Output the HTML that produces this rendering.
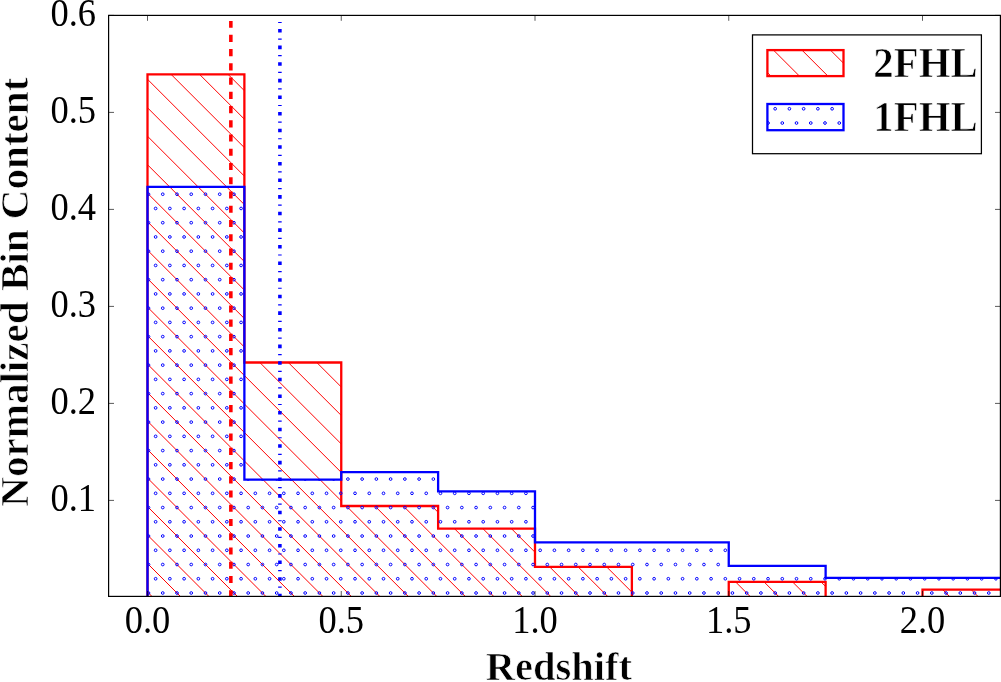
<!DOCTYPE html>
<html><head><meta charset="utf-8"><style>
html,body{margin:0;padding:0;background:#fff;}
body{width:1001px;height:682px;overflow:hidden;font-family:"Liberation Serif",serif;}
svg{display:block;will-change:transform;}
</style></head><body>
<svg width="1001" height="682" viewBox="0 0 1001 682">
<defs>
<clipPath id="ax"><rect x="108.60" y="15.40" width="891.80" height="581.60"/></clipPath>
<clipPath id="redc"><path d="M147.50,597.40 L147.50,74.40 L244.38,74.40 L244.38,362.50 L341.25,362.50 L341.25,506.00 L438.12,506.00 L438.12,528.70 L535.00,528.70 L535.00,566.80 L631.88,566.80 L631.88,597.40 L728.75,597.40 L728.75,581.90 L825.62,581.90 L825.62,597.40 L922.50,597.40 L922.50,589.70 L1019.38,589.70 L1019.38,597.40 Z"/></clipPath>
<clipPath id="bluec"><path d="M147.50,597.40 L147.50,186.90 L244.38,186.90 L244.38,479.60 L341.25,479.60 L341.25,472.10 L438.12,472.10 L438.12,491.30 L535.00,491.30 L535.00,542.40 L631.88,542.40 L631.88,542.40 L728.75,542.40 L728.75,565.80 L825.62,565.80 L825.62,577.90 L922.50,577.90 L922.50,577.90 L1019.38,577.90 L1019.38,597.40 Z"/></clipPath>
<clipPath id="lrc"><rect x="767.40" y="50.10" width="76.10" height="26.00"/></clipPath>
<clipPath id="lbc"><rect x="767.40" y="104.00" width="76.10" height="26.20"/></clipPath>
</defs>
<rect width="1001" height="682" fill="#fff"/>
<g clip-path="url(#ax)">
<g clip-path="url(#redc)" stroke="#ff0000" stroke-width="1.00" fill="none">
<line x1="-430.45" y1="71.00" x2="98.95" y2="600.40"/>
<line x1="-401.97" y1="71.00" x2="127.43" y2="600.40"/>
<line x1="-373.48" y1="71.00" x2="155.92" y2="600.40"/>
<line x1="-345.00" y1="71.00" x2="184.40" y2="600.40"/>
<line x1="-316.52" y1="71.00" x2="212.88" y2="600.40"/>
<line x1="-288.03" y1="71.00" x2="241.37" y2="600.40"/>
<line x1="-259.55" y1="71.00" x2="269.85" y2="600.40"/>
<line x1="-231.06" y1="71.00" x2="298.34" y2="600.40"/>
<line x1="-202.58" y1="71.00" x2="326.82" y2="600.40"/>
<line x1="-174.10" y1="71.00" x2="355.30" y2="600.40"/>
<line x1="-145.61" y1="71.00" x2="383.79" y2="600.40"/>
<line x1="-117.13" y1="71.00" x2="412.27" y2="600.40"/>
<line x1="-88.64" y1="71.00" x2="440.76" y2="600.40"/>
<line x1="-60.16" y1="71.00" x2="469.24" y2="600.40"/>
<line x1="-31.68" y1="71.00" x2="497.72" y2="600.40"/>
<line x1="-3.19" y1="71.00" x2="526.21" y2="600.40"/>
<line x1="25.29" y1="71.00" x2="554.69" y2="600.40"/>
<line x1="53.78" y1="71.00" x2="583.18" y2="600.40"/>
<line x1="82.26" y1="71.00" x2="611.66" y2="600.40"/>
<line x1="110.74" y1="71.00" x2="640.14" y2="600.40"/>
<line x1="139.23" y1="71.00" x2="668.63" y2="600.40"/>
<line x1="167.71" y1="71.00" x2="697.11" y2="600.40"/>
<line x1="196.20" y1="71.00" x2="725.60" y2="600.40"/>
<line x1="224.68" y1="71.00" x2="754.08" y2="600.40"/>
<line x1="253.16" y1="71.00" x2="782.56" y2="600.40"/>
<line x1="281.65" y1="71.00" x2="811.05" y2="600.40"/>
<line x1="310.13" y1="71.00" x2="839.53" y2="600.40"/>
<line x1="338.62" y1="71.00" x2="868.02" y2="600.40"/>
<line x1="367.10" y1="71.00" x2="896.50" y2="600.40"/>
<line x1="395.58" y1="71.00" x2="924.98" y2="600.40"/>
<line x1="424.07" y1="71.00" x2="953.47" y2="600.40"/>
<line x1="452.55" y1="71.00" x2="981.95" y2="600.40"/>
<line x1="481.04" y1="71.00" x2="1010.44" y2="600.40"/>
<line x1="509.52" y1="71.00" x2="1038.92" y2="600.40"/>
<line x1="538.00" y1="71.00" x2="1067.40" y2="600.40"/>
<line x1="566.49" y1="71.00" x2="1095.89" y2="600.40"/>
<line x1="594.97" y1="71.00" x2="1124.37" y2="600.40"/>
<line x1="623.46" y1="71.00" x2="1152.86" y2="600.40"/>
<line x1="651.94" y1="71.00" x2="1181.34" y2="600.40"/>
<line x1="680.42" y1="71.00" x2="1209.82" y2="600.40"/>
<line x1="708.91" y1="71.00" x2="1238.31" y2="600.40"/>
<line x1="737.39" y1="71.00" x2="1266.79" y2="600.40"/>
<line x1="765.88" y1="71.00" x2="1295.28" y2="600.40"/>
<line x1="794.36" y1="71.00" x2="1323.76" y2="600.40"/>
<line x1="822.84" y1="71.00" x2="1352.24" y2="600.40"/>
<line x1="851.33" y1="71.00" x2="1380.73" y2="600.40"/>
<line x1="879.81" y1="71.00" x2="1409.21" y2="600.40"/>
<line x1="908.30" y1="71.00" x2="1437.70" y2="600.40"/>
<line x1="936.78" y1="71.00" x2="1466.18" y2="600.40"/>
<line x1="965.26" y1="71.00" x2="1494.66" y2="600.40"/>
<line x1="993.75" y1="71.00" x2="1523.15" y2="600.40"/>
<line x1="1022.23" y1="71.00" x2="1551.63" y2="600.40"/>
<line x1="1050.72" y1="71.00" x2="1580.12" y2="600.40"/>
</g>
<path d="M147.50,597.40 L147.50,74.40 L244.38,74.40 L244.38,362.50 L341.25,362.50 L341.25,506.00 L438.12,506.00 L438.12,528.70 L535.00,528.70 L535.00,566.80 L631.88,566.80 L631.88,597.40 L728.75,597.40 L728.75,581.90 L825.62,581.90 L825.62,597.40 L922.50,597.40 L922.50,589.70 L1019.38,589.70 L1019.38,597.40" fill="none" stroke="#ff0000" stroke-width="2.30" stroke-linejoin="miter"/>
<g clip-path="url(#bluec)" stroke="#0000ff" stroke-width="1.00" fill="none">
<circle cx="148.51" cy="593.00" r="1.35"/>
<circle cx="162.75" cy="593.00" r="1.35"/>
<circle cx="176.99" cy="593.00" r="1.35"/>
<circle cx="191.23" cy="593.00" r="1.35"/>
<circle cx="205.48" cy="593.00" r="1.35"/>
<circle cx="219.72" cy="593.00" r="1.35"/>
<circle cx="233.96" cy="593.00" r="1.35"/>
<circle cx="248.20" cy="593.00" r="1.35"/>
<circle cx="262.44" cy="593.00" r="1.35"/>
<circle cx="276.69" cy="593.00" r="1.35"/>
<circle cx="290.93" cy="593.00" r="1.35"/>
<circle cx="305.17" cy="593.00" r="1.35"/>
<circle cx="319.41" cy="593.00" r="1.35"/>
<circle cx="333.65" cy="593.00" r="1.35"/>
<circle cx="347.90" cy="593.00" r="1.35"/>
<circle cx="362.14" cy="593.00" r="1.35"/>
<circle cx="376.38" cy="593.00" r="1.35"/>
<circle cx="390.62" cy="593.00" r="1.35"/>
<circle cx="404.86" cy="593.00" r="1.35"/>
<circle cx="419.11" cy="593.00" r="1.35"/>
<circle cx="433.35" cy="593.00" r="1.35"/>
<circle cx="447.59" cy="593.00" r="1.35"/>
<circle cx="461.83" cy="593.00" r="1.35"/>
<circle cx="476.07" cy="593.00" r="1.35"/>
<circle cx="490.32" cy="593.00" r="1.35"/>
<circle cx="504.56" cy="593.00" r="1.35"/>
<circle cx="518.80" cy="593.00" r="1.35"/>
<circle cx="533.04" cy="593.00" r="1.35"/>
<circle cx="547.28" cy="593.00" r="1.35"/>
<circle cx="561.53" cy="593.00" r="1.35"/>
<circle cx="575.77" cy="593.00" r="1.35"/>
<circle cx="590.01" cy="593.00" r="1.35"/>
<circle cx="604.25" cy="593.00" r="1.35"/>
<circle cx="618.49" cy="593.00" r="1.35"/>
<circle cx="632.74" cy="593.00" r="1.35"/>
<circle cx="646.98" cy="593.00" r="1.35"/>
<circle cx="661.22" cy="593.00" r="1.35"/>
<circle cx="675.46" cy="593.00" r="1.35"/>
<circle cx="689.70" cy="593.00" r="1.35"/>
<circle cx="703.95" cy="593.00" r="1.35"/>
<circle cx="718.19" cy="593.00" r="1.35"/>
<circle cx="732.43" cy="593.00" r="1.35"/>
<circle cx="746.67" cy="593.00" r="1.35"/>
<circle cx="760.91" cy="593.00" r="1.35"/>
<circle cx="775.16" cy="593.00" r="1.35"/>
<circle cx="789.40" cy="593.00" r="1.35"/>
<circle cx="803.64" cy="593.00" r="1.35"/>
<circle cx="817.88" cy="593.00" r="1.35"/>
<circle cx="832.12" cy="593.00" r="1.35"/>
<circle cx="846.37" cy="593.00" r="1.35"/>
<circle cx="860.61" cy="593.00" r="1.35"/>
<circle cx="874.85" cy="593.00" r="1.35"/>
<circle cx="889.09" cy="593.00" r="1.35"/>
<circle cx="903.33" cy="593.00" r="1.35"/>
<circle cx="917.58" cy="593.00" r="1.35"/>
<circle cx="931.82" cy="593.00" r="1.35"/>
<circle cx="946.06" cy="593.00" r="1.35"/>
<circle cx="960.30" cy="593.00" r="1.35"/>
<circle cx="974.54" cy="593.00" r="1.35"/>
<circle cx="988.79" cy="593.00" r="1.35"/>
<circle cx="1003.03" cy="593.00" r="1.35"/>
<circle cx="155.63" cy="578.76" r="1.35"/>
<circle cx="169.87" cy="578.76" r="1.35"/>
<circle cx="184.11" cy="578.76" r="1.35"/>
<circle cx="198.35" cy="578.76" r="1.35"/>
<circle cx="212.60" cy="578.76" r="1.35"/>
<circle cx="226.84" cy="578.76" r="1.35"/>
<circle cx="241.08" cy="578.76" r="1.35"/>
<circle cx="255.32" cy="578.76" r="1.35"/>
<circle cx="269.56" cy="578.76" r="1.35"/>
<circle cx="283.81" cy="578.76" r="1.35"/>
<circle cx="298.05" cy="578.76" r="1.35"/>
<circle cx="312.29" cy="578.76" r="1.35"/>
<circle cx="326.53" cy="578.76" r="1.35"/>
<circle cx="340.77" cy="578.76" r="1.35"/>
<circle cx="355.02" cy="578.76" r="1.35"/>
<circle cx="369.26" cy="578.76" r="1.35"/>
<circle cx="383.50" cy="578.76" r="1.35"/>
<circle cx="397.74" cy="578.76" r="1.35"/>
<circle cx="411.99" cy="578.76" r="1.35"/>
<circle cx="426.23" cy="578.76" r="1.35"/>
<circle cx="440.47" cy="578.76" r="1.35"/>
<circle cx="454.71" cy="578.76" r="1.35"/>
<circle cx="468.95" cy="578.76" r="1.35"/>
<circle cx="483.20" cy="578.76" r="1.35"/>
<circle cx="497.44" cy="578.76" r="1.35"/>
<circle cx="511.68" cy="578.76" r="1.35"/>
<circle cx="525.92" cy="578.76" r="1.35"/>
<circle cx="540.16" cy="578.76" r="1.35"/>
<circle cx="554.40" cy="578.76" r="1.35"/>
<circle cx="568.65" cy="578.76" r="1.35"/>
<circle cx="582.89" cy="578.76" r="1.35"/>
<circle cx="597.13" cy="578.76" r="1.35"/>
<circle cx="611.37" cy="578.76" r="1.35"/>
<circle cx="625.62" cy="578.76" r="1.35"/>
<circle cx="639.86" cy="578.76" r="1.35"/>
<circle cx="654.10" cy="578.76" r="1.35"/>
<circle cx="668.34" cy="578.76" r="1.35"/>
<circle cx="682.58" cy="578.76" r="1.35"/>
<circle cx="696.83" cy="578.76" r="1.35"/>
<circle cx="711.07" cy="578.76" r="1.35"/>
<circle cx="725.31" cy="578.76" r="1.35"/>
<circle cx="739.55" cy="578.76" r="1.35"/>
<circle cx="753.79" cy="578.76" r="1.35"/>
<circle cx="768.04" cy="578.76" r="1.35"/>
<circle cx="782.28" cy="578.76" r="1.35"/>
<circle cx="796.52" cy="578.76" r="1.35"/>
<circle cx="810.76" cy="578.76" r="1.35"/>
<circle cx="825.00" cy="578.76" r="1.35"/>
<circle cx="839.25" cy="578.76" r="1.35"/>
<circle cx="853.49" cy="578.76" r="1.35"/>
<circle cx="867.73" cy="578.76" r="1.35"/>
<circle cx="881.97" cy="578.76" r="1.35"/>
<circle cx="896.21" cy="578.76" r="1.35"/>
<circle cx="910.46" cy="578.76" r="1.35"/>
<circle cx="924.70" cy="578.76" r="1.35"/>
<circle cx="938.94" cy="578.76" r="1.35"/>
<circle cx="953.18" cy="578.76" r="1.35"/>
<circle cx="967.42" cy="578.76" r="1.35"/>
<circle cx="981.67" cy="578.76" r="1.35"/>
<circle cx="995.91" cy="578.76" r="1.35"/>
<circle cx="148.51" cy="564.52" r="1.35"/>
<circle cx="162.75" cy="564.52" r="1.35"/>
<circle cx="176.99" cy="564.52" r="1.35"/>
<circle cx="191.23" cy="564.52" r="1.35"/>
<circle cx="205.48" cy="564.52" r="1.35"/>
<circle cx="219.72" cy="564.52" r="1.35"/>
<circle cx="233.96" cy="564.52" r="1.35"/>
<circle cx="248.20" cy="564.52" r="1.35"/>
<circle cx="262.44" cy="564.52" r="1.35"/>
<circle cx="276.69" cy="564.52" r="1.35"/>
<circle cx="290.93" cy="564.52" r="1.35"/>
<circle cx="305.17" cy="564.52" r="1.35"/>
<circle cx="319.41" cy="564.52" r="1.35"/>
<circle cx="333.65" cy="564.52" r="1.35"/>
<circle cx="347.90" cy="564.52" r="1.35"/>
<circle cx="362.14" cy="564.52" r="1.35"/>
<circle cx="376.38" cy="564.52" r="1.35"/>
<circle cx="390.62" cy="564.52" r="1.35"/>
<circle cx="404.86" cy="564.52" r="1.35"/>
<circle cx="419.11" cy="564.52" r="1.35"/>
<circle cx="433.35" cy="564.52" r="1.35"/>
<circle cx="447.59" cy="564.52" r="1.35"/>
<circle cx="461.83" cy="564.52" r="1.35"/>
<circle cx="476.07" cy="564.52" r="1.35"/>
<circle cx="490.32" cy="564.52" r="1.35"/>
<circle cx="504.56" cy="564.52" r="1.35"/>
<circle cx="518.80" cy="564.52" r="1.35"/>
<circle cx="533.04" cy="564.52" r="1.35"/>
<circle cx="547.28" cy="564.52" r="1.35"/>
<circle cx="561.53" cy="564.52" r="1.35"/>
<circle cx="575.77" cy="564.52" r="1.35"/>
<circle cx="590.01" cy="564.52" r="1.35"/>
<circle cx="604.25" cy="564.52" r="1.35"/>
<circle cx="618.49" cy="564.52" r="1.35"/>
<circle cx="632.74" cy="564.52" r="1.35"/>
<circle cx="646.98" cy="564.52" r="1.35"/>
<circle cx="661.22" cy="564.52" r="1.35"/>
<circle cx="675.46" cy="564.52" r="1.35"/>
<circle cx="689.70" cy="564.52" r="1.35"/>
<circle cx="703.95" cy="564.52" r="1.35"/>
<circle cx="718.19" cy="564.52" r="1.35"/>
<circle cx="732.43" cy="564.52" r="1.35"/>
<circle cx="746.67" cy="564.52" r="1.35"/>
<circle cx="760.91" cy="564.52" r="1.35"/>
<circle cx="775.16" cy="564.52" r="1.35"/>
<circle cx="789.40" cy="564.52" r="1.35"/>
<circle cx="803.64" cy="564.52" r="1.35"/>
<circle cx="817.88" cy="564.52" r="1.35"/>
<circle cx="832.12" cy="564.52" r="1.35"/>
<circle cx="846.37" cy="564.52" r="1.35"/>
<circle cx="860.61" cy="564.52" r="1.35"/>
<circle cx="874.85" cy="564.52" r="1.35"/>
<circle cx="889.09" cy="564.52" r="1.35"/>
<circle cx="903.33" cy="564.52" r="1.35"/>
<circle cx="917.58" cy="564.52" r="1.35"/>
<circle cx="931.82" cy="564.52" r="1.35"/>
<circle cx="946.06" cy="564.52" r="1.35"/>
<circle cx="960.30" cy="564.52" r="1.35"/>
<circle cx="974.54" cy="564.52" r="1.35"/>
<circle cx="988.79" cy="564.52" r="1.35"/>
<circle cx="1003.03" cy="564.52" r="1.35"/>
<circle cx="155.63" cy="550.27" r="1.35"/>
<circle cx="169.87" cy="550.27" r="1.35"/>
<circle cx="184.11" cy="550.27" r="1.35"/>
<circle cx="198.35" cy="550.27" r="1.35"/>
<circle cx="212.60" cy="550.27" r="1.35"/>
<circle cx="226.84" cy="550.27" r="1.35"/>
<circle cx="241.08" cy="550.27" r="1.35"/>
<circle cx="255.32" cy="550.27" r="1.35"/>
<circle cx="269.56" cy="550.27" r="1.35"/>
<circle cx="283.81" cy="550.27" r="1.35"/>
<circle cx="298.05" cy="550.27" r="1.35"/>
<circle cx="312.29" cy="550.27" r="1.35"/>
<circle cx="326.53" cy="550.27" r="1.35"/>
<circle cx="340.77" cy="550.27" r="1.35"/>
<circle cx="355.02" cy="550.27" r="1.35"/>
<circle cx="369.26" cy="550.27" r="1.35"/>
<circle cx="383.50" cy="550.27" r="1.35"/>
<circle cx="397.74" cy="550.27" r="1.35"/>
<circle cx="411.99" cy="550.27" r="1.35"/>
<circle cx="426.23" cy="550.27" r="1.35"/>
<circle cx="440.47" cy="550.27" r="1.35"/>
<circle cx="454.71" cy="550.27" r="1.35"/>
<circle cx="468.95" cy="550.27" r="1.35"/>
<circle cx="483.20" cy="550.27" r="1.35"/>
<circle cx="497.44" cy="550.27" r="1.35"/>
<circle cx="511.68" cy="550.27" r="1.35"/>
<circle cx="525.92" cy="550.27" r="1.35"/>
<circle cx="540.16" cy="550.27" r="1.35"/>
<circle cx="554.40" cy="550.27" r="1.35"/>
<circle cx="568.65" cy="550.27" r="1.35"/>
<circle cx="582.89" cy="550.27" r="1.35"/>
<circle cx="597.13" cy="550.27" r="1.35"/>
<circle cx="611.37" cy="550.27" r="1.35"/>
<circle cx="625.62" cy="550.27" r="1.35"/>
<circle cx="639.86" cy="550.27" r="1.35"/>
<circle cx="654.10" cy="550.27" r="1.35"/>
<circle cx="668.34" cy="550.27" r="1.35"/>
<circle cx="682.58" cy="550.27" r="1.35"/>
<circle cx="696.83" cy="550.27" r="1.35"/>
<circle cx="711.07" cy="550.27" r="1.35"/>
<circle cx="725.31" cy="550.27" r="1.35"/>
<circle cx="739.55" cy="550.27" r="1.35"/>
<circle cx="753.79" cy="550.27" r="1.35"/>
<circle cx="768.04" cy="550.27" r="1.35"/>
<circle cx="782.28" cy="550.27" r="1.35"/>
<circle cx="796.52" cy="550.27" r="1.35"/>
<circle cx="810.76" cy="550.27" r="1.35"/>
<circle cx="825.00" cy="550.27" r="1.35"/>
<circle cx="839.25" cy="550.27" r="1.35"/>
<circle cx="853.49" cy="550.27" r="1.35"/>
<circle cx="867.73" cy="550.27" r="1.35"/>
<circle cx="881.97" cy="550.27" r="1.35"/>
<circle cx="896.21" cy="550.27" r="1.35"/>
<circle cx="910.46" cy="550.27" r="1.35"/>
<circle cx="924.70" cy="550.27" r="1.35"/>
<circle cx="938.94" cy="550.27" r="1.35"/>
<circle cx="953.18" cy="550.27" r="1.35"/>
<circle cx="967.42" cy="550.27" r="1.35"/>
<circle cx="981.67" cy="550.27" r="1.35"/>
<circle cx="995.91" cy="550.27" r="1.35"/>
<circle cx="148.51" cy="536.03" r="1.35"/>
<circle cx="162.75" cy="536.03" r="1.35"/>
<circle cx="176.99" cy="536.03" r="1.35"/>
<circle cx="191.23" cy="536.03" r="1.35"/>
<circle cx="205.48" cy="536.03" r="1.35"/>
<circle cx="219.72" cy="536.03" r="1.35"/>
<circle cx="233.96" cy="536.03" r="1.35"/>
<circle cx="248.20" cy="536.03" r="1.35"/>
<circle cx="262.44" cy="536.03" r="1.35"/>
<circle cx="276.69" cy="536.03" r="1.35"/>
<circle cx="290.93" cy="536.03" r="1.35"/>
<circle cx="305.17" cy="536.03" r="1.35"/>
<circle cx="319.41" cy="536.03" r="1.35"/>
<circle cx="333.65" cy="536.03" r="1.35"/>
<circle cx="347.90" cy="536.03" r="1.35"/>
<circle cx="362.14" cy="536.03" r="1.35"/>
<circle cx="376.38" cy="536.03" r="1.35"/>
<circle cx="390.62" cy="536.03" r="1.35"/>
<circle cx="404.86" cy="536.03" r="1.35"/>
<circle cx="419.11" cy="536.03" r="1.35"/>
<circle cx="433.35" cy="536.03" r="1.35"/>
<circle cx="447.59" cy="536.03" r="1.35"/>
<circle cx="461.83" cy="536.03" r="1.35"/>
<circle cx="476.07" cy="536.03" r="1.35"/>
<circle cx="490.32" cy="536.03" r="1.35"/>
<circle cx="504.56" cy="536.03" r="1.35"/>
<circle cx="518.80" cy="536.03" r="1.35"/>
<circle cx="533.04" cy="536.03" r="1.35"/>
<circle cx="547.28" cy="536.03" r="1.35"/>
<circle cx="561.53" cy="536.03" r="1.35"/>
<circle cx="575.77" cy="536.03" r="1.35"/>
<circle cx="590.01" cy="536.03" r="1.35"/>
<circle cx="604.25" cy="536.03" r="1.35"/>
<circle cx="618.49" cy="536.03" r="1.35"/>
<circle cx="632.74" cy="536.03" r="1.35"/>
<circle cx="646.98" cy="536.03" r="1.35"/>
<circle cx="661.22" cy="536.03" r="1.35"/>
<circle cx="675.46" cy="536.03" r="1.35"/>
<circle cx="689.70" cy="536.03" r="1.35"/>
<circle cx="703.95" cy="536.03" r="1.35"/>
<circle cx="718.19" cy="536.03" r="1.35"/>
<circle cx="732.43" cy="536.03" r="1.35"/>
<circle cx="746.67" cy="536.03" r="1.35"/>
<circle cx="760.91" cy="536.03" r="1.35"/>
<circle cx="775.16" cy="536.03" r="1.35"/>
<circle cx="789.40" cy="536.03" r="1.35"/>
<circle cx="803.64" cy="536.03" r="1.35"/>
<circle cx="817.88" cy="536.03" r="1.35"/>
<circle cx="832.12" cy="536.03" r="1.35"/>
<circle cx="846.37" cy="536.03" r="1.35"/>
<circle cx="860.61" cy="536.03" r="1.35"/>
<circle cx="874.85" cy="536.03" r="1.35"/>
<circle cx="889.09" cy="536.03" r="1.35"/>
<circle cx="903.33" cy="536.03" r="1.35"/>
<circle cx="917.58" cy="536.03" r="1.35"/>
<circle cx="931.82" cy="536.03" r="1.35"/>
<circle cx="946.06" cy="536.03" r="1.35"/>
<circle cx="960.30" cy="536.03" r="1.35"/>
<circle cx="974.54" cy="536.03" r="1.35"/>
<circle cx="988.79" cy="536.03" r="1.35"/>
<circle cx="1003.03" cy="536.03" r="1.35"/>
<circle cx="155.63" cy="521.79" r="1.35"/>
<circle cx="169.87" cy="521.79" r="1.35"/>
<circle cx="184.11" cy="521.79" r="1.35"/>
<circle cx="198.35" cy="521.79" r="1.35"/>
<circle cx="212.60" cy="521.79" r="1.35"/>
<circle cx="226.84" cy="521.79" r="1.35"/>
<circle cx="241.08" cy="521.79" r="1.35"/>
<circle cx="255.32" cy="521.79" r="1.35"/>
<circle cx="269.56" cy="521.79" r="1.35"/>
<circle cx="283.81" cy="521.79" r="1.35"/>
<circle cx="298.05" cy="521.79" r="1.35"/>
<circle cx="312.29" cy="521.79" r="1.35"/>
<circle cx="326.53" cy="521.79" r="1.35"/>
<circle cx="340.77" cy="521.79" r="1.35"/>
<circle cx="355.02" cy="521.79" r="1.35"/>
<circle cx="369.26" cy="521.79" r="1.35"/>
<circle cx="383.50" cy="521.79" r="1.35"/>
<circle cx="397.74" cy="521.79" r="1.35"/>
<circle cx="411.99" cy="521.79" r="1.35"/>
<circle cx="426.23" cy="521.79" r="1.35"/>
<circle cx="440.47" cy="521.79" r="1.35"/>
<circle cx="454.71" cy="521.79" r="1.35"/>
<circle cx="468.95" cy="521.79" r="1.35"/>
<circle cx="483.20" cy="521.79" r="1.35"/>
<circle cx="497.44" cy="521.79" r="1.35"/>
<circle cx="511.68" cy="521.79" r="1.35"/>
<circle cx="525.92" cy="521.79" r="1.35"/>
<circle cx="540.16" cy="521.79" r="1.35"/>
<circle cx="554.40" cy="521.79" r="1.35"/>
<circle cx="568.65" cy="521.79" r="1.35"/>
<circle cx="582.89" cy="521.79" r="1.35"/>
<circle cx="597.13" cy="521.79" r="1.35"/>
<circle cx="611.37" cy="521.79" r="1.35"/>
<circle cx="625.62" cy="521.79" r="1.35"/>
<circle cx="639.86" cy="521.79" r="1.35"/>
<circle cx="654.10" cy="521.79" r="1.35"/>
<circle cx="668.34" cy="521.79" r="1.35"/>
<circle cx="682.58" cy="521.79" r="1.35"/>
<circle cx="696.83" cy="521.79" r="1.35"/>
<circle cx="711.07" cy="521.79" r="1.35"/>
<circle cx="725.31" cy="521.79" r="1.35"/>
<circle cx="739.55" cy="521.79" r="1.35"/>
<circle cx="753.79" cy="521.79" r="1.35"/>
<circle cx="768.04" cy="521.79" r="1.35"/>
<circle cx="782.28" cy="521.79" r="1.35"/>
<circle cx="796.52" cy="521.79" r="1.35"/>
<circle cx="810.76" cy="521.79" r="1.35"/>
<circle cx="825.00" cy="521.79" r="1.35"/>
<circle cx="839.25" cy="521.79" r="1.35"/>
<circle cx="853.49" cy="521.79" r="1.35"/>
<circle cx="867.73" cy="521.79" r="1.35"/>
<circle cx="881.97" cy="521.79" r="1.35"/>
<circle cx="896.21" cy="521.79" r="1.35"/>
<circle cx="910.46" cy="521.79" r="1.35"/>
<circle cx="924.70" cy="521.79" r="1.35"/>
<circle cx="938.94" cy="521.79" r="1.35"/>
<circle cx="953.18" cy="521.79" r="1.35"/>
<circle cx="967.42" cy="521.79" r="1.35"/>
<circle cx="981.67" cy="521.79" r="1.35"/>
<circle cx="995.91" cy="521.79" r="1.35"/>
<circle cx="148.51" cy="507.55" r="1.35"/>
<circle cx="162.75" cy="507.55" r="1.35"/>
<circle cx="176.99" cy="507.55" r="1.35"/>
<circle cx="191.23" cy="507.55" r="1.35"/>
<circle cx="205.48" cy="507.55" r="1.35"/>
<circle cx="219.72" cy="507.55" r="1.35"/>
<circle cx="233.96" cy="507.55" r="1.35"/>
<circle cx="248.20" cy="507.55" r="1.35"/>
<circle cx="262.44" cy="507.55" r="1.35"/>
<circle cx="276.69" cy="507.55" r="1.35"/>
<circle cx="290.93" cy="507.55" r="1.35"/>
<circle cx="305.17" cy="507.55" r="1.35"/>
<circle cx="319.41" cy="507.55" r="1.35"/>
<circle cx="333.65" cy="507.55" r="1.35"/>
<circle cx="347.90" cy="507.55" r="1.35"/>
<circle cx="362.14" cy="507.55" r="1.35"/>
<circle cx="376.38" cy="507.55" r="1.35"/>
<circle cx="390.62" cy="507.55" r="1.35"/>
<circle cx="404.86" cy="507.55" r="1.35"/>
<circle cx="419.11" cy="507.55" r="1.35"/>
<circle cx="433.35" cy="507.55" r="1.35"/>
<circle cx="447.59" cy="507.55" r="1.35"/>
<circle cx="461.83" cy="507.55" r="1.35"/>
<circle cx="476.07" cy="507.55" r="1.35"/>
<circle cx="490.32" cy="507.55" r="1.35"/>
<circle cx="504.56" cy="507.55" r="1.35"/>
<circle cx="518.80" cy="507.55" r="1.35"/>
<circle cx="533.04" cy="507.55" r="1.35"/>
<circle cx="547.28" cy="507.55" r="1.35"/>
<circle cx="561.53" cy="507.55" r="1.35"/>
<circle cx="575.77" cy="507.55" r="1.35"/>
<circle cx="590.01" cy="507.55" r="1.35"/>
<circle cx="604.25" cy="507.55" r="1.35"/>
<circle cx="618.49" cy="507.55" r="1.35"/>
<circle cx="632.74" cy="507.55" r="1.35"/>
<circle cx="646.98" cy="507.55" r="1.35"/>
<circle cx="661.22" cy="507.55" r="1.35"/>
<circle cx="675.46" cy="507.55" r="1.35"/>
<circle cx="689.70" cy="507.55" r="1.35"/>
<circle cx="703.95" cy="507.55" r="1.35"/>
<circle cx="718.19" cy="507.55" r="1.35"/>
<circle cx="732.43" cy="507.55" r="1.35"/>
<circle cx="746.67" cy="507.55" r="1.35"/>
<circle cx="760.91" cy="507.55" r="1.35"/>
<circle cx="775.16" cy="507.55" r="1.35"/>
<circle cx="789.40" cy="507.55" r="1.35"/>
<circle cx="803.64" cy="507.55" r="1.35"/>
<circle cx="817.88" cy="507.55" r="1.35"/>
<circle cx="832.12" cy="507.55" r="1.35"/>
<circle cx="846.37" cy="507.55" r="1.35"/>
<circle cx="860.61" cy="507.55" r="1.35"/>
<circle cx="874.85" cy="507.55" r="1.35"/>
<circle cx="889.09" cy="507.55" r="1.35"/>
<circle cx="903.33" cy="507.55" r="1.35"/>
<circle cx="917.58" cy="507.55" r="1.35"/>
<circle cx="931.82" cy="507.55" r="1.35"/>
<circle cx="946.06" cy="507.55" r="1.35"/>
<circle cx="960.30" cy="507.55" r="1.35"/>
<circle cx="974.54" cy="507.55" r="1.35"/>
<circle cx="988.79" cy="507.55" r="1.35"/>
<circle cx="1003.03" cy="507.55" r="1.35"/>
<circle cx="155.63" cy="493.31" r="1.35"/>
<circle cx="169.87" cy="493.31" r="1.35"/>
<circle cx="184.11" cy="493.31" r="1.35"/>
<circle cx="198.35" cy="493.31" r="1.35"/>
<circle cx="212.60" cy="493.31" r="1.35"/>
<circle cx="226.84" cy="493.31" r="1.35"/>
<circle cx="241.08" cy="493.31" r="1.35"/>
<circle cx="255.32" cy="493.31" r="1.35"/>
<circle cx="269.56" cy="493.31" r="1.35"/>
<circle cx="283.81" cy="493.31" r="1.35"/>
<circle cx="298.05" cy="493.31" r="1.35"/>
<circle cx="312.29" cy="493.31" r="1.35"/>
<circle cx="326.53" cy="493.31" r="1.35"/>
<circle cx="340.77" cy="493.31" r="1.35"/>
<circle cx="355.02" cy="493.31" r="1.35"/>
<circle cx="369.26" cy="493.31" r="1.35"/>
<circle cx="383.50" cy="493.31" r="1.35"/>
<circle cx="397.74" cy="493.31" r="1.35"/>
<circle cx="411.99" cy="493.31" r="1.35"/>
<circle cx="426.23" cy="493.31" r="1.35"/>
<circle cx="440.47" cy="493.31" r="1.35"/>
<circle cx="454.71" cy="493.31" r="1.35"/>
<circle cx="468.95" cy="493.31" r="1.35"/>
<circle cx="483.20" cy="493.31" r="1.35"/>
<circle cx="497.44" cy="493.31" r="1.35"/>
<circle cx="511.68" cy="493.31" r="1.35"/>
<circle cx="525.92" cy="493.31" r="1.35"/>
<circle cx="540.16" cy="493.31" r="1.35"/>
<circle cx="554.40" cy="493.31" r="1.35"/>
<circle cx="568.65" cy="493.31" r="1.35"/>
<circle cx="582.89" cy="493.31" r="1.35"/>
<circle cx="597.13" cy="493.31" r="1.35"/>
<circle cx="611.37" cy="493.31" r="1.35"/>
<circle cx="625.62" cy="493.31" r="1.35"/>
<circle cx="639.86" cy="493.31" r="1.35"/>
<circle cx="654.10" cy="493.31" r="1.35"/>
<circle cx="668.34" cy="493.31" r="1.35"/>
<circle cx="682.58" cy="493.31" r="1.35"/>
<circle cx="696.83" cy="493.31" r="1.35"/>
<circle cx="711.07" cy="493.31" r="1.35"/>
<circle cx="725.31" cy="493.31" r="1.35"/>
<circle cx="739.55" cy="493.31" r="1.35"/>
<circle cx="753.79" cy="493.31" r="1.35"/>
<circle cx="768.04" cy="493.31" r="1.35"/>
<circle cx="782.28" cy="493.31" r="1.35"/>
<circle cx="796.52" cy="493.31" r="1.35"/>
<circle cx="810.76" cy="493.31" r="1.35"/>
<circle cx="825.00" cy="493.31" r="1.35"/>
<circle cx="839.25" cy="493.31" r="1.35"/>
<circle cx="853.49" cy="493.31" r="1.35"/>
<circle cx="867.73" cy="493.31" r="1.35"/>
<circle cx="881.97" cy="493.31" r="1.35"/>
<circle cx="896.21" cy="493.31" r="1.35"/>
<circle cx="910.46" cy="493.31" r="1.35"/>
<circle cx="924.70" cy="493.31" r="1.35"/>
<circle cx="938.94" cy="493.31" r="1.35"/>
<circle cx="953.18" cy="493.31" r="1.35"/>
<circle cx="967.42" cy="493.31" r="1.35"/>
<circle cx="981.67" cy="493.31" r="1.35"/>
<circle cx="995.91" cy="493.31" r="1.35"/>
<circle cx="148.51" cy="479.06" r="1.35"/>
<circle cx="162.75" cy="479.06" r="1.35"/>
<circle cx="176.99" cy="479.06" r="1.35"/>
<circle cx="191.23" cy="479.06" r="1.35"/>
<circle cx="205.48" cy="479.06" r="1.35"/>
<circle cx="219.72" cy="479.06" r="1.35"/>
<circle cx="233.96" cy="479.06" r="1.35"/>
<circle cx="248.20" cy="479.06" r="1.35"/>
<circle cx="262.44" cy="479.06" r="1.35"/>
<circle cx="276.69" cy="479.06" r="1.35"/>
<circle cx="290.93" cy="479.06" r="1.35"/>
<circle cx="305.17" cy="479.06" r="1.35"/>
<circle cx="319.41" cy="479.06" r="1.35"/>
<circle cx="333.65" cy="479.06" r="1.35"/>
<circle cx="347.90" cy="479.06" r="1.35"/>
<circle cx="362.14" cy="479.06" r="1.35"/>
<circle cx="376.38" cy="479.06" r="1.35"/>
<circle cx="390.62" cy="479.06" r="1.35"/>
<circle cx="404.86" cy="479.06" r="1.35"/>
<circle cx="419.11" cy="479.06" r="1.35"/>
<circle cx="433.35" cy="479.06" r="1.35"/>
<circle cx="447.59" cy="479.06" r="1.35"/>
<circle cx="461.83" cy="479.06" r="1.35"/>
<circle cx="476.07" cy="479.06" r="1.35"/>
<circle cx="490.32" cy="479.06" r="1.35"/>
<circle cx="504.56" cy="479.06" r="1.35"/>
<circle cx="518.80" cy="479.06" r="1.35"/>
<circle cx="533.04" cy="479.06" r="1.35"/>
<circle cx="547.28" cy="479.06" r="1.35"/>
<circle cx="561.53" cy="479.06" r="1.35"/>
<circle cx="575.77" cy="479.06" r="1.35"/>
<circle cx="590.01" cy="479.06" r="1.35"/>
<circle cx="604.25" cy="479.06" r="1.35"/>
<circle cx="618.49" cy="479.06" r="1.35"/>
<circle cx="632.74" cy="479.06" r="1.35"/>
<circle cx="646.98" cy="479.06" r="1.35"/>
<circle cx="661.22" cy="479.06" r="1.35"/>
<circle cx="675.46" cy="479.06" r="1.35"/>
<circle cx="689.70" cy="479.06" r="1.35"/>
<circle cx="703.95" cy="479.06" r="1.35"/>
<circle cx="718.19" cy="479.06" r="1.35"/>
<circle cx="732.43" cy="479.06" r="1.35"/>
<circle cx="746.67" cy="479.06" r="1.35"/>
<circle cx="760.91" cy="479.06" r="1.35"/>
<circle cx="775.16" cy="479.06" r="1.35"/>
<circle cx="789.40" cy="479.06" r="1.35"/>
<circle cx="803.64" cy="479.06" r="1.35"/>
<circle cx="817.88" cy="479.06" r="1.35"/>
<circle cx="832.12" cy="479.06" r="1.35"/>
<circle cx="846.37" cy="479.06" r="1.35"/>
<circle cx="860.61" cy="479.06" r="1.35"/>
<circle cx="874.85" cy="479.06" r="1.35"/>
<circle cx="889.09" cy="479.06" r="1.35"/>
<circle cx="903.33" cy="479.06" r="1.35"/>
<circle cx="917.58" cy="479.06" r="1.35"/>
<circle cx="931.82" cy="479.06" r="1.35"/>
<circle cx="946.06" cy="479.06" r="1.35"/>
<circle cx="960.30" cy="479.06" r="1.35"/>
<circle cx="974.54" cy="479.06" r="1.35"/>
<circle cx="988.79" cy="479.06" r="1.35"/>
<circle cx="1003.03" cy="479.06" r="1.35"/>
<circle cx="155.63" cy="464.82" r="1.35"/>
<circle cx="169.87" cy="464.82" r="1.35"/>
<circle cx="184.11" cy="464.82" r="1.35"/>
<circle cx="198.35" cy="464.82" r="1.35"/>
<circle cx="212.60" cy="464.82" r="1.35"/>
<circle cx="226.84" cy="464.82" r="1.35"/>
<circle cx="241.08" cy="464.82" r="1.35"/>
<circle cx="255.32" cy="464.82" r="1.35"/>
<circle cx="269.56" cy="464.82" r="1.35"/>
<circle cx="283.81" cy="464.82" r="1.35"/>
<circle cx="298.05" cy="464.82" r="1.35"/>
<circle cx="312.29" cy="464.82" r="1.35"/>
<circle cx="326.53" cy="464.82" r="1.35"/>
<circle cx="340.77" cy="464.82" r="1.35"/>
<circle cx="355.02" cy="464.82" r="1.35"/>
<circle cx="369.26" cy="464.82" r="1.35"/>
<circle cx="383.50" cy="464.82" r="1.35"/>
<circle cx="397.74" cy="464.82" r="1.35"/>
<circle cx="411.99" cy="464.82" r="1.35"/>
<circle cx="426.23" cy="464.82" r="1.35"/>
<circle cx="440.47" cy="464.82" r="1.35"/>
<circle cx="454.71" cy="464.82" r="1.35"/>
<circle cx="468.95" cy="464.82" r="1.35"/>
<circle cx="483.20" cy="464.82" r="1.35"/>
<circle cx="497.44" cy="464.82" r="1.35"/>
<circle cx="511.68" cy="464.82" r="1.35"/>
<circle cx="525.92" cy="464.82" r="1.35"/>
<circle cx="540.16" cy="464.82" r="1.35"/>
<circle cx="554.40" cy="464.82" r="1.35"/>
<circle cx="568.65" cy="464.82" r="1.35"/>
<circle cx="582.89" cy="464.82" r="1.35"/>
<circle cx="597.13" cy="464.82" r="1.35"/>
<circle cx="611.37" cy="464.82" r="1.35"/>
<circle cx="625.62" cy="464.82" r="1.35"/>
<circle cx="639.86" cy="464.82" r="1.35"/>
<circle cx="654.10" cy="464.82" r="1.35"/>
<circle cx="668.34" cy="464.82" r="1.35"/>
<circle cx="682.58" cy="464.82" r="1.35"/>
<circle cx="696.83" cy="464.82" r="1.35"/>
<circle cx="711.07" cy="464.82" r="1.35"/>
<circle cx="725.31" cy="464.82" r="1.35"/>
<circle cx="739.55" cy="464.82" r="1.35"/>
<circle cx="753.79" cy="464.82" r="1.35"/>
<circle cx="768.04" cy="464.82" r="1.35"/>
<circle cx="782.28" cy="464.82" r="1.35"/>
<circle cx="796.52" cy="464.82" r="1.35"/>
<circle cx="810.76" cy="464.82" r="1.35"/>
<circle cx="825.00" cy="464.82" r="1.35"/>
<circle cx="839.25" cy="464.82" r="1.35"/>
<circle cx="853.49" cy="464.82" r="1.35"/>
<circle cx="867.73" cy="464.82" r="1.35"/>
<circle cx="881.97" cy="464.82" r="1.35"/>
<circle cx="896.21" cy="464.82" r="1.35"/>
<circle cx="910.46" cy="464.82" r="1.35"/>
<circle cx="924.70" cy="464.82" r="1.35"/>
<circle cx="938.94" cy="464.82" r="1.35"/>
<circle cx="953.18" cy="464.82" r="1.35"/>
<circle cx="967.42" cy="464.82" r="1.35"/>
<circle cx="981.67" cy="464.82" r="1.35"/>
<circle cx="995.91" cy="464.82" r="1.35"/>
<circle cx="148.51" cy="450.58" r="1.35"/>
<circle cx="162.75" cy="450.58" r="1.35"/>
<circle cx="176.99" cy="450.58" r="1.35"/>
<circle cx="191.23" cy="450.58" r="1.35"/>
<circle cx="205.48" cy="450.58" r="1.35"/>
<circle cx="219.72" cy="450.58" r="1.35"/>
<circle cx="233.96" cy="450.58" r="1.35"/>
<circle cx="248.20" cy="450.58" r="1.35"/>
<circle cx="262.44" cy="450.58" r="1.35"/>
<circle cx="276.69" cy="450.58" r="1.35"/>
<circle cx="290.93" cy="450.58" r="1.35"/>
<circle cx="305.17" cy="450.58" r="1.35"/>
<circle cx="319.41" cy="450.58" r="1.35"/>
<circle cx="333.65" cy="450.58" r="1.35"/>
<circle cx="347.90" cy="450.58" r="1.35"/>
<circle cx="362.14" cy="450.58" r="1.35"/>
<circle cx="376.38" cy="450.58" r="1.35"/>
<circle cx="390.62" cy="450.58" r="1.35"/>
<circle cx="404.86" cy="450.58" r="1.35"/>
<circle cx="419.11" cy="450.58" r="1.35"/>
<circle cx="433.35" cy="450.58" r="1.35"/>
<circle cx="447.59" cy="450.58" r="1.35"/>
<circle cx="461.83" cy="450.58" r="1.35"/>
<circle cx="476.07" cy="450.58" r="1.35"/>
<circle cx="490.32" cy="450.58" r="1.35"/>
<circle cx="504.56" cy="450.58" r="1.35"/>
<circle cx="518.80" cy="450.58" r="1.35"/>
<circle cx="533.04" cy="450.58" r="1.35"/>
<circle cx="547.28" cy="450.58" r="1.35"/>
<circle cx="561.53" cy="450.58" r="1.35"/>
<circle cx="575.77" cy="450.58" r="1.35"/>
<circle cx="590.01" cy="450.58" r="1.35"/>
<circle cx="604.25" cy="450.58" r="1.35"/>
<circle cx="618.49" cy="450.58" r="1.35"/>
<circle cx="632.74" cy="450.58" r="1.35"/>
<circle cx="646.98" cy="450.58" r="1.35"/>
<circle cx="661.22" cy="450.58" r="1.35"/>
<circle cx="675.46" cy="450.58" r="1.35"/>
<circle cx="689.70" cy="450.58" r="1.35"/>
<circle cx="703.95" cy="450.58" r="1.35"/>
<circle cx="718.19" cy="450.58" r="1.35"/>
<circle cx="732.43" cy="450.58" r="1.35"/>
<circle cx="746.67" cy="450.58" r="1.35"/>
<circle cx="760.91" cy="450.58" r="1.35"/>
<circle cx="775.16" cy="450.58" r="1.35"/>
<circle cx="789.40" cy="450.58" r="1.35"/>
<circle cx="803.64" cy="450.58" r="1.35"/>
<circle cx="817.88" cy="450.58" r="1.35"/>
<circle cx="832.12" cy="450.58" r="1.35"/>
<circle cx="846.37" cy="450.58" r="1.35"/>
<circle cx="860.61" cy="450.58" r="1.35"/>
<circle cx="874.85" cy="450.58" r="1.35"/>
<circle cx="889.09" cy="450.58" r="1.35"/>
<circle cx="903.33" cy="450.58" r="1.35"/>
<circle cx="917.58" cy="450.58" r="1.35"/>
<circle cx="931.82" cy="450.58" r="1.35"/>
<circle cx="946.06" cy="450.58" r="1.35"/>
<circle cx="960.30" cy="450.58" r="1.35"/>
<circle cx="974.54" cy="450.58" r="1.35"/>
<circle cx="988.79" cy="450.58" r="1.35"/>
<circle cx="1003.03" cy="450.58" r="1.35"/>
<circle cx="155.63" cy="436.34" r="1.35"/>
<circle cx="169.87" cy="436.34" r="1.35"/>
<circle cx="184.11" cy="436.34" r="1.35"/>
<circle cx="198.35" cy="436.34" r="1.35"/>
<circle cx="212.60" cy="436.34" r="1.35"/>
<circle cx="226.84" cy="436.34" r="1.35"/>
<circle cx="241.08" cy="436.34" r="1.35"/>
<circle cx="255.32" cy="436.34" r="1.35"/>
<circle cx="269.56" cy="436.34" r="1.35"/>
<circle cx="283.81" cy="436.34" r="1.35"/>
<circle cx="298.05" cy="436.34" r="1.35"/>
<circle cx="312.29" cy="436.34" r="1.35"/>
<circle cx="326.53" cy="436.34" r="1.35"/>
<circle cx="340.77" cy="436.34" r="1.35"/>
<circle cx="355.02" cy="436.34" r="1.35"/>
<circle cx="369.26" cy="436.34" r="1.35"/>
<circle cx="383.50" cy="436.34" r="1.35"/>
<circle cx="397.74" cy="436.34" r="1.35"/>
<circle cx="411.99" cy="436.34" r="1.35"/>
<circle cx="426.23" cy="436.34" r="1.35"/>
<circle cx="440.47" cy="436.34" r="1.35"/>
<circle cx="454.71" cy="436.34" r="1.35"/>
<circle cx="468.95" cy="436.34" r="1.35"/>
<circle cx="483.20" cy="436.34" r="1.35"/>
<circle cx="497.44" cy="436.34" r="1.35"/>
<circle cx="511.68" cy="436.34" r="1.35"/>
<circle cx="525.92" cy="436.34" r="1.35"/>
<circle cx="540.16" cy="436.34" r="1.35"/>
<circle cx="554.40" cy="436.34" r="1.35"/>
<circle cx="568.65" cy="436.34" r="1.35"/>
<circle cx="582.89" cy="436.34" r="1.35"/>
<circle cx="597.13" cy="436.34" r="1.35"/>
<circle cx="611.37" cy="436.34" r="1.35"/>
<circle cx="625.62" cy="436.34" r="1.35"/>
<circle cx="639.86" cy="436.34" r="1.35"/>
<circle cx="654.10" cy="436.34" r="1.35"/>
<circle cx="668.34" cy="436.34" r="1.35"/>
<circle cx="682.58" cy="436.34" r="1.35"/>
<circle cx="696.83" cy="436.34" r="1.35"/>
<circle cx="711.07" cy="436.34" r="1.35"/>
<circle cx="725.31" cy="436.34" r="1.35"/>
<circle cx="739.55" cy="436.34" r="1.35"/>
<circle cx="753.79" cy="436.34" r="1.35"/>
<circle cx="768.04" cy="436.34" r="1.35"/>
<circle cx="782.28" cy="436.34" r="1.35"/>
<circle cx="796.52" cy="436.34" r="1.35"/>
<circle cx="810.76" cy="436.34" r="1.35"/>
<circle cx="825.00" cy="436.34" r="1.35"/>
<circle cx="839.25" cy="436.34" r="1.35"/>
<circle cx="853.49" cy="436.34" r="1.35"/>
<circle cx="867.73" cy="436.34" r="1.35"/>
<circle cx="881.97" cy="436.34" r="1.35"/>
<circle cx="896.21" cy="436.34" r="1.35"/>
<circle cx="910.46" cy="436.34" r="1.35"/>
<circle cx="924.70" cy="436.34" r="1.35"/>
<circle cx="938.94" cy="436.34" r="1.35"/>
<circle cx="953.18" cy="436.34" r="1.35"/>
<circle cx="967.42" cy="436.34" r="1.35"/>
<circle cx="981.67" cy="436.34" r="1.35"/>
<circle cx="995.91" cy="436.34" r="1.35"/>
<circle cx="148.51" cy="422.10" r="1.35"/>
<circle cx="162.75" cy="422.10" r="1.35"/>
<circle cx="176.99" cy="422.10" r="1.35"/>
<circle cx="191.23" cy="422.10" r="1.35"/>
<circle cx="205.48" cy="422.10" r="1.35"/>
<circle cx="219.72" cy="422.10" r="1.35"/>
<circle cx="233.96" cy="422.10" r="1.35"/>
<circle cx="248.20" cy="422.10" r="1.35"/>
<circle cx="262.44" cy="422.10" r="1.35"/>
<circle cx="276.69" cy="422.10" r="1.35"/>
<circle cx="290.93" cy="422.10" r="1.35"/>
<circle cx="305.17" cy="422.10" r="1.35"/>
<circle cx="319.41" cy="422.10" r="1.35"/>
<circle cx="333.65" cy="422.10" r="1.35"/>
<circle cx="347.90" cy="422.10" r="1.35"/>
<circle cx="362.14" cy="422.10" r="1.35"/>
<circle cx="376.38" cy="422.10" r="1.35"/>
<circle cx="390.62" cy="422.10" r="1.35"/>
<circle cx="404.86" cy="422.10" r="1.35"/>
<circle cx="419.11" cy="422.10" r="1.35"/>
<circle cx="433.35" cy="422.10" r="1.35"/>
<circle cx="447.59" cy="422.10" r="1.35"/>
<circle cx="461.83" cy="422.10" r="1.35"/>
<circle cx="476.07" cy="422.10" r="1.35"/>
<circle cx="490.32" cy="422.10" r="1.35"/>
<circle cx="504.56" cy="422.10" r="1.35"/>
<circle cx="518.80" cy="422.10" r="1.35"/>
<circle cx="533.04" cy="422.10" r="1.35"/>
<circle cx="547.28" cy="422.10" r="1.35"/>
<circle cx="561.53" cy="422.10" r="1.35"/>
<circle cx="575.77" cy="422.10" r="1.35"/>
<circle cx="590.01" cy="422.10" r="1.35"/>
<circle cx="604.25" cy="422.10" r="1.35"/>
<circle cx="618.49" cy="422.10" r="1.35"/>
<circle cx="632.74" cy="422.10" r="1.35"/>
<circle cx="646.98" cy="422.10" r="1.35"/>
<circle cx="661.22" cy="422.10" r="1.35"/>
<circle cx="675.46" cy="422.10" r="1.35"/>
<circle cx="689.70" cy="422.10" r="1.35"/>
<circle cx="703.95" cy="422.10" r="1.35"/>
<circle cx="718.19" cy="422.10" r="1.35"/>
<circle cx="732.43" cy="422.10" r="1.35"/>
<circle cx="746.67" cy="422.10" r="1.35"/>
<circle cx="760.91" cy="422.10" r="1.35"/>
<circle cx="775.16" cy="422.10" r="1.35"/>
<circle cx="789.40" cy="422.10" r="1.35"/>
<circle cx="803.64" cy="422.10" r="1.35"/>
<circle cx="817.88" cy="422.10" r="1.35"/>
<circle cx="832.12" cy="422.10" r="1.35"/>
<circle cx="846.37" cy="422.10" r="1.35"/>
<circle cx="860.61" cy="422.10" r="1.35"/>
<circle cx="874.85" cy="422.10" r="1.35"/>
<circle cx="889.09" cy="422.10" r="1.35"/>
<circle cx="903.33" cy="422.10" r="1.35"/>
<circle cx="917.58" cy="422.10" r="1.35"/>
<circle cx="931.82" cy="422.10" r="1.35"/>
<circle cx="946.06" cy="422.10" r="1.35"/>
<circle cx="960.30" cy="422.10" r="1.35"/>
<circle cx="974.54" cy="422.10" r="1.35"/>
<circle cx="988.79" cy="422.10" r="1.35"/>
<circle cx="1003.03" cy="422.10" r="1.35"/>
<circle cx="155.63" cy="407.85" r="1.35"/>
<circle cx="169.87" cy="407.85" r="1.35"/>
<circle cx="184.11" cy="407.85" r="1.35"/>
<circle cx="198.35" cy="407.85" r="1.35"/>
<circle cx="212.60" cy="407.85" r="1.35"/>
<circle cx="226.84" cy="407.85" r="1.35"/>
<circle cx="241.08" cy="407.85" r="1.35"/>
<circle cx="255.32" cy="407.85" r="1.35"/>
<circle cx="269.56" cy="407.85" r="1.35"/>
<circle cx="283.81" cy="407.85" r="1.35"/>
<circle cx="298.05" cy="407.85" r="1.35"/>
<circle cx="312.29" cy="407.85" r="1.35"/>
<circle cx="326.53" cy="407.85" r="1.35"/>
<circle cx="340.77" cy="407.85" r="1.35"/>
<circle cx="355.02" cy="407.85" r="1.35"/>
<circle cx="369.26" cy="407.85" r="1.35"/>
<circle cx="383.50" cy="407.85" r="1.35"/>
<circle cx="397.74" cy="407.85" r="1.35"/>
<circle cx="411.99" cy="407.85" r="1.35"/>
<circle cx="426.23" cy="407.85" r="1.35"/>
<circle cx="440.47" cy="407.85" r="1.35"/>
<circle cx="454.71" cy="407.85" r="1.35"/>
<circle cx="468.95" cy="407.85" r="1.35"/>
<circle cx="483.20" cy="407.85" r="1.35"/>
<circle cx="497.44" cy="407.85" r="1.35"/>
<circle cx="511.68" cy="407.85" r="1.35"/>
<circle cx="525.92" cy="407.85" r="1.35"/>
<circle cx="540.16" cy="407.85" r="1.35"/>
<circle cx="554.40" cy="407.85" r="1.35"/>
<circle cx="568.65" cy="407.85" r="1.35"/>
<circle cx="582.89" cy="407.85" r="1.35"/>
<circle cx="597.13" cy="407.85" r="1.35"/>
<circle cx="611.37" cy="407.85" r="1.35"/>
<circle cx="625.62" cy="407.85" r="1.35"/>
<circle cx="639.86" cy="407.85" r="1.35"/>
<circle cx="654.10" cy="407.85" r="1.35"/>
<circle cx="668.34" cy="407.85" r="1.35"/>
<circle cx="682.58" cy="407.85" r="1.35"/>
<circle cx="696.83" cy="407.85" r="1.35"/>
<circle cx="711.07" cy="407.85" r="1.35"/>
<circle cx="725.31" cy="407.85" r="1.35"/>
<circle cx="739.55" cy="407.85" r="1.35"/>
<circle cx="753.79" cy="407.85" r="1.35"/>
<circle cx="768.04" cy="407.85" r="1.35"/>
<circle cx="782.28" cy="407.85" r="1.35"/>
<circle cx="796.52" cy="407.85" r="1.35"/>
<circle cx="810.76" cy="407.85" r="1.35"/>
<circle cx="825.00" cy="407.85" r="1.35"/>
<circle cx="839.25" cy="407.85" r="1.35"/>
<circle cx="853.49" cy="407.85" r="1.35"/>
<circle cx="867.73" cy="407.85" r="1.35"/>
<circle cx="881.97" cy="407.85" r="1.35"/>
<circle cx="896.21" cy="407.85" r="1.35"/>
<circle cx="910.46" cy="407.85" r="1.35"/>
<circle cx="924.70" cy="407.85" r="1.35"/>
<circle cx="938.94" cy="407.85" r="1.35"/>
<circle cx="953.18" cy="407.85" r="1.35"/>
<circle cx="967.42" cy="407.85" r="1.35"/>
<circle cx="981.67" cy="407.85" r="1.35"/>
<circle cx="995.91" cy="407.85" r="1.35"/>
<circle cx="148.51" cy="393.61" r="1.35"/>
<circle cx="162.75" cy="393.61" r="1.35"/>
<circle cx="176.99" cy="393.61" r="1.35"/>
<circle cx="191.23" cy="393.61" r="1.35"/>
<circle cx="205.48" cy="393.61" r="1.35"/>
<circle cx="219.72" cy="393.61" r="1.35"/>
<circle cx="233.96" cy="393.61" r="1.35"/>
<circle cx="248.20" cy="393.61" r="1.35"/>
<circle cx="262.44" cy="393.61" r="1.35"/>
<circle cx="276.69" cy="393.61" r="1.35"/>
<circle cx="290.93" cy="393.61" r="1.35"/>
<circle cx="305.17" cy="393.61" r="1.35"/>
<circle cx="319.41" cy="393.61" r="1.35"/>
<circle cx="333.65" cy="393.61" r="1.35"/>
<circle cx="347.90" cy="393.61" r="1.35"/>
<circle cx="362.14" cy="393.61" r="1.35"/>
<circle cx="376.38" cy="393.61" r="1.35"/>
<circle cx="390.62" cy="393.61" r="1.35"/>
<circle cx="404.86" cy="393.61" r="1.35"/>
<circle cx="419.11" cy="393.61" r="1.35"/>
<circle cx="433.35" cy="393.61" r="1.35"/>
<circle cx="447.59" cy="393.61" r="1.35"/>
<circle cx="461.83" cy="393.61" r="1.35"/>
<circle cx="476.07" cy="393.61" r="1.35"/>
<circle cx="490.32" cy="393.61" r="1.35"/>
<circle cx="504.56" cy="393.61" r="1.35"/>
<circle cx="518.80" cy="393.61" r="1.35"/>
<circle cx="533.04" cy="393.61" r="1.35"/>
<circle cx="547.28" cy="393.61" r="1.35"/>
<circle cx="561.53" cy="393.61" r="1.35"/>
<circle cx="575.77" cy="393.61" r="1.35"/>
<circle cx="590.01" cy="393.61" r="1.35"/>
<circle cx="604.25" cy="393.61" r="1.35"/>
<circle cx="618.49" cy="393.61" r="1.35"/>
<circle cx="632.74" cy="393.61" r="1.35"/>
<circle cx="646.98" cy="393.61" r="1.35"/>
<circle cx="661.22" cy="393.61" r="1.35"/>
<circle cx="675.46" cy="393.61" r="1.35"/>
<circle cx="689.70" cy="393.61" r="1.35"/>
<circle cx="703.95" cy="393.61" r="1.35"/>
<circle cx="718.19" cy="393.61" r="1.35"/>
<circle cx="732.43" cy="393.61" r="1.35"/>
<circle cx="746.67" cy="393.61" r="1.35"/>
<circle cx="760.91" cy="393.61" r="1.35"/>
<circle cx="775.16" cy="393.61" r="1.35"/>
<circle cx="789.40" cy="393.61" r="1.35"/>
<circle cx="803.64" cy="393.61" r="1.35"/>
<circle cx="817.88" cy="393.61" r="1.35"/>
<circle cx="832.12" cy="393.61" r="1.35"/>
<circle cx="846.37" cy="393.61" r="1.35"/>
<circle cx="860.61" cy="393.61" r="1.35"/>
<circle cx="874.85" cy="393.61" r="1.35"/>
<circle cx="889.09" cy="393.61" r="1.35"/>
<circle cx="903.33" cy="393.61" r="1.35"/>
<circle cx="917.58" cy="393.61" r="1.35"/>
<circle cx="931.82" cy="393.61" r="1.35"/>
<circle cx="946.06" cy="393.61" r="1.35"/>
<circle cx="960.30" cy="393.61" r="1.35"/>
<circle cx="974.54" cy="393.61" r="1.35"/>
<circle cx="988.79" cy="393.61" r="1.35"/>
<circle cx="1003.03" cy="393.61" r="1.35"/>
<circle cx="155.63" cy="379.37" r="1.35"/>
<circle cx="169.87" cy="379.37" r="1.35"/>
<circle cx="184.11" cy="379.37" r="1.35"/>
<circle cx="198.35" cy="379.37" r="1.35"/>
<circle cx="212.60" cy="379.37" r="1.35"/>
<circle cx="226.84" cy="379.37" r="1.35"/>
<circle cx="241.08" cy="379.37" r="1.35"/>
<circle cx="255.32" cy="379.37" r="1.35"/>
<circle cx="269.56" cy="379.37" r="1.35"/>
<circle cx="283.81" cy="379.37" r="1.35"/>
<circle cx="298.05" cy="379.37" r="1.35"/>
<circle cx="312.29" cy="379.37" r="1.35"/>
<circle cx="326.53" cy="379.37" r="1.35"/>
<circle cx="340.77" cy="379.37" r="1.35"/>
<circle cx="355.02" cy="379.37" r="1.35"/>
<circle cx="369.26" cy="379.37" r="1.35"/>
<circle cx="383.50" cy="379.37" r="1.35"/>
<circle cx="397.74" cy="379.37" r="1.35"/>
<circle cx="411.99" cy="379.37" r="1.35"/>
<circle cx="426.23" cy="379.37" r="1.35"/>
<circle cx="440.47" cy="379.37" r="1.35"/>
<circle cx="454.71" cy="379.37" r="1.35"/>
<circle cx="468.95" cy="379.37" r="1.35"/>
<circle cx="483.20" cy="379.37" r="1.35"/>
<circle cx="497.44" cy="379.37" r="1.35"/>
<circle cx="511.68" cy="379.37" r="1.35"/>
<circle cx="525.92" cy="379.37" r="1.35"/>
<circle cx="540.16" cy="379.37" r="1.35"/>
<circle cx="554.40" cy="379.37" r="1.35"/>
<circle cx="568.65" cy="379.37" r="1.35"/>
<circle cx="582.89" cy="379.37" r="1.35"/>
<circle cx="597.13" cy="379.37" r="1.35"/>
<circle cx="611.37" cy="379.37" r="1.35"/>
<circle cx="625.62" cy="379.37" r="1.35"/>
<circle cx="639.86" cy="379.37" r="1.35"/>
<circle cx="654.10" cy="379.37" r="1.35"/>
<circle cx="668.34" cy="379.37" r="1.35"/>
<circle cx="682.58" cy="379.37" r="1.35"/>
<circle cx="696.83" cy="379.37" r="1.35"/>
<circle cx="711.07" cy="379.37" r="1.35"/>
<circle cx="725.31" cy="379.37" r="1.35"/>
<circle cx="739.55" cy="379.37" r="1.35"/>
<circle cx="753.79" cy="379.37" r="1.35"/>
<circle cx="768.04" cy="379.37" r="1.35"/>
<circle cx="782.28" cy="379.37" r="1.35"/>
<circle cx="796.52" cy="379.37" r="1.35"/>
<circle cx="810.76" cy="379.37" r="1.35"/>
<circle cx="825.00" cy="379.37" r="1.35"/>
<circle cx="839.25" cy="379.37" r="1.35"/>
<circle cx="853.49" cy="379.37" r="1.35"/>
<circle cx="867.73" cy="379.37" r="1.35"/>
<circle cx="881.97" cy="379.37" r="1.35"/>
<circle cx="896.21" cy="379.37" r="1.35"/>
<circle cx="910.46" cy="379.37" r="1.35"/>
<circle cx="924.70" cy="379.37" r="1.35"/>
<circle cx="938.94" cy="379.37" r="1.35"/>
<circle cx="953.18" cy="379.37" r="1.35"/>
<circle cx="967.42" cy="379.37" r="1.35"/>
<circle cx="981.67" cy="379.37" r="1.35"/>
<circle cx="995.91" cy="379.37" r="1.35"/>
<circle cx="148.51" cy="365.13" r="1.35"/>
<circle cx="162.75" cy="365.13" r="1.35"/>
<circle cx="176.99" cy="365.13" r="1.35"/>
<circle cx="191.23" cy="365.13" r="1.35"/>
<circle cx="205.48" cy="365.13" r="1.35"/>
<circle cx="219.72" cy="365.13" r="1.35"/>
<circle cx="233.96" cy="365.13" r="1.35"/>
<circle cx="248.20" cy="365.13" r="1.35"/>
<circle cx="262.44" cy="365.13" r="1.35"/>
<circle cx="276.69" cy="365.13" r="1.35"/>
<circle cx="290.93" cy="365.13" r="1.35"/>
<circle cx="305.17" cy="365.13" r="1.35"/>
<circle cx="319.41" cy="365.13" r="1.35"/>
<circle cx="333.65" cy="365.13" r="1.35"/>
<circle cx="347.90" cy="365.13" r="1.35"/>
<circle cx="362.14" cy="365.13" r="1.35"/>
<circle cx="376.38" cy="365.13" r="1.35"/>
<circle cx="390.62" cy="365.13" r="1.35"/>
<circle cx="404.86" cy="365.13" r="1.35"/>
<circle cx="419.11" cy="365.13" r="1.35"/>
<circle cx="433.35" cy="365.13" r="1.35"/>
<circle cx="447.59" cy="365.13" r="1.35"/>
<circle cx="461.83" cy="365.13" r="1.35"/>
<circle cx="476.07" cy="365.13" r="1.35"/>
<circle cx="490.32" cy="365.13" r="1.35"/>
<circle cx="504.56" cy="365.13" r="1.35"/>
<circle cx="518.80" cy="365.13" r="1.35"/>
<circle cx="533.04" cy="365.13" r="1.35"/>
<circle cx="547.28" cy="365.13" r="1.35"/>
<circle cx="561.53" cy="365.13" r="1.35"/>
<circle cx="575.77" cy="365.13" r="1.35"/>
<circle cx="590.01" cy="365.13" r="1.35"/>
<circle cx="604.25" cy="365.13" r="1.35"/>
<circle cx="618.49" cy="365.13" r="1.35"/>
<circle cx="632.74" cy="365.13" r="1.35"/>
<circle cx="646.98" cy="365.13" r="1.35"/>
<circle cx="661.22" cy="365.13" r="1.35"/>
<circle cx="675.46" cy="365.13" r="1.35"/>
<circle cx="689.70" cy="365.13" r="1.35"/>
<circle cx="703.95" cy="365.13" r="1.35"/>
<circle cx="718.19" cy="365.13" r="1.35"/>
<circle cx="732.43" cy="365.13" r="1.35"/>
<circle cx="746.67" cy="365.13" r="1.35"/>
<circle cx="760.91" cy="365.13" r="1.35"/>
<circle cx="775.16" cy="365.13" r="1.35"/>
<circle cx="789.40" cy="365.13" r="1.35"/>
<circle cx="803.64" cy="365.13" r="1.35"/>
<circle cx="817.88" cy="365.13" r="1.35"/>
<circle cx="832.12" cy="365.13" r="1.35"/>
<circle cx="846.37" cy="365.13" r="1.35"/>
<circle cx="860.61" cy="365.13" r="1.35"/>
<circle cx="874.85" cy="365.13" r="1.35"/>
<circle cx="889.09" cy="365.13" r="1.35"/>
<circle cx="903.33" cy="365.13" r="1.35"/>
<circle cx="917.58" cy="365.13" r="1.35"/>
<circle cx="931.82" cy="365.13" r="1.35"/>
<circle cx="946.06" cy="365.13" r="1.35"/>
<circle cx="960.30" cy="365.13" r="1.35"/>
<circle cx="974.54" cy="365.13" r="1.35"/>
<circle cx="988.79" cy="365.13" r="1.35"/>
<circle cx="1003.03" cy="365.13" r="1.35"/>
<circle cx="155.63" cy="350.89" r="1.35"/>
<circle cx="169.87" cy="350.89" r="1.35"/>
<circle cx="184.11" cy="350.89" r="1.35"/>
<circle cx="198.35" cy="350.89" r="1.35"/>
<circle cx="212.60" cy="350.89" r="1.35"/>
<circle cx="226.84" cy="350.89" r="1.35"/>
<circle cx="241.08" cy="350.89" r="1.35"/>
<circle cx="255.32" cy="350.89" r="1.35"/>
<circle cx="269.56" cy="350.89" r="1.35"/>
<circle cx="283.81" cy="350.89" r="1.35"/>
<circle cx="298.05" cy="350.89" r="1.35"/>
<circle cx="312.29" cy="350.89" r="1.35"/>
<circle cx="326.53" cy="350.89" r="1.35"/>
<circle cx="340.77" cy="350.89" r="1.35"/>
<circle cx="355.02" cy="350.89" r="1.35"/>
<circle cx="369.26" cy="350.89" r="1.35"/>
<circle cx="383.50" cy="350.89" r="1.35"/>
<circle cx="397.74" cy="350.89" r="1.35"/>
<circle cx="411.99" cy="350.89" r="1.35"/>
<circle cx="426.23" cy="350.89" r="1.35"/>
<circle cx="440.47" cy="350.89" r="1.35"/>
<circle cx="454.71" cy="350.89" r="1.35"/>
<circle cx="468.95" cy="350.89" r="1.35"/>
<circle cx="483.20" cy="350.89" r="1.35"/>
<circle cx="497.44" cy="350.89" r="1.35"/>
<circle cx="511.68" cy="350.89" r="1.35"/>
<circle cx="525.92" cy="350.89" r="1.35"/>
<circle cx="540.16" cy="350.89" r="1.35"/>
<circle cx="554.40" cy="350.89" r="1.35"/>
<circle cx="568.65" cy="350.89" r="1.35"/>
<circle cx="582.89" cy="350.89" r="1.35"/>
<circle cx="597.13" cy="350.89" r="1.35"/>
<circle cx="611.37" cy="350.89" r="1.35"/>
<circle cx="625.62" cy="350.89" r="1.35"/>
<circle cx="639.86" cy="350.89" r="1.35"/>
<circle cx="654.10" cy="350.89" r="1.35"/>
<circle cx="668.34" cy="350.89" r="1.35"/>
<circle cx="682.58" cy="350.89" r="1.35"/>
<circle cx="696.83" cy="350.89" r="1.35"/>
<circle cx="711.07" cy="350.89" r="1.35"/>
<circle cx="725.31" cy="350.89" r="1.35"/>
<circle cx="739.55" cy="350.89" r="1.35"/>
<circle cx="753.79" cy="350.89" r="1.35"/>
<circle cx="768.04" cy="350.89" r="1.35"/>
<circle cx="782.28" cy="350.89" r="1.35"/>
<circle cx="796.52" cy="350.89" r="1.35"/>
<circle cx="810.76" cy="350.89" r="1.35"/>
<circle cx="825.00" cy="350.89" r="1.35"/>
<circle cx="839.25" cy="350.89" r="1.35"/>
<circle cx="853.49" cy="350.89" r="1.35"/>
<circle cx="867.73" cy="350.89" r="1.35"/>
<circle cx="881.97" cy="350.89" r="1.35"/>
<circle cx="896.21" cy="350.89" r="1.35"/>
<circle cx="910.46" cy="350.89" r="1.35"/>
<circle cx="924.70" cy="350.89" r="1.35"/>
<circle cx="938.94" cy="350.89" r="1.35"/>
<circle cx="953.18" cy="350.89" r="1.35"/>
<circle cx="967.42" cy="350.89" r="1.35"/>
<circle cx="981.67" cy="350.89" r="1.35"/>
<circle cx="995.91" cy="350.89" r="1.35"/>
<circle cx="148.51" cy="336.64" r="1.35"/>
<circle cx="162.75" cy="336.64" r="1.35"/>
<circle cx="176.99" cy="336.64" r="1.35"/>
<circle cx="191.23" cy="336.64" r="1.35"/>
<circle cx="205.48" cy="336.64" r="1.35"/>
<circle cx="219.72" cy="336.64" r="1.35"/>
<circle cx="233.96" cy="336.64" r="1.35"/>
<circle cx="248.20" cy="336.64" r="1.35"/>
<circle cx="262.44" cy="336.64" r="1.35"/>
<circle cx="276.69" cy="336.64" r="1.35"/>
<circle cx="290.93" cy="336.64" r="1.35"/>
<circle cx="305.17" cy="336.64" r="1.35"/>
<circle cx="319.41" cy="336.64" r="1.35"/>
<circle cx="333.65" cy="336.64" r="1.35"/>
<circle cx="347.90" cy="336.64" r="1.35"/>
<circle cx="362.14" cy="336.64" r="1.35"/>
<circle cx="376.38" cy="336.64" r="1.35"/>
<circle cx="390.62" cy="336.64" r="1.35"/>
<circle cx="404.86" cy="336.64" r="1.35"/>
<circle cx="419.11" cy="336.64" r="1.35"/>
<circle cx="433.35" cy="336.64" r="1.35"/>
<circle cx="447.59" cy="336.64" r="1.35"/>
<circle cx="461.83" cy="336.64" r="1.35"/>
<circle cx="476.07" cy="336.64" r="1.35"/>
<circle cx="490.32" cy="336.64" r="1.35"/>
<circle cx="504.56" cy="336.64" r="1.35"/>
<circle cx="518.80" cy="336.64" r="1.35"/>
<circle cx="533.04" cy="336.64" r="1.35"/>
<circle cx="547.28" cy="336.64" r="1.35"/>
<circle cx="561.53" cy="336.64" r="1.35"/>
<circle cx="575.77" cy="336.64" r="1.35"/>
<circle cx="590.01" cy="336.64" r="1.35"/>
<circle cx="604.25" cy="336.64" r="1.35"/>
<circle cx="618.49" cy="336.64" r="1.35"/>
<circle cx="632.74" cy="336.64" r="1.35"/>
<circle cx="646.98" cy="336.64" r="1.35"/>
<circle cx="661.22" cy="336.64" r="1.35"/>
<circle cx="675.46" cy="336.64" r="1.35"/>
<circle cx="689.70" cy="336.64" r="1.35"/>
<circle cx="703.95" cy="336.64" r="1.35"/>
<circle cx="718.19" cy="336.64" r="1.35"/>
<circle cx="732.43" cy="336.64" r="1.35"/>
<circle cx="746.67" cy="336.64" r="1.35"/>
<circle cx="760.91" cy="336.64" r="1.35"/>
<circle cx="775.16" cy="336.64" r="1.35"/>
<circle cx="789.40" cy="336.64" r="1.35"/>
<circle cx="803.64" cy="336.64" r="1.35"/>
<circle cx="817.88" cy="336.64" r="1.35"/>
<circle cx="832.12" cy="336.64" r="1.35"/>
<circle cx="846.37" cy="336.64" r="1.35"/>
<circle cx="860.61" cy="336.64" r="1.35"/>
<circle cx="874.85" cy="336.64" r="1.35"/>
<circle cx="889.09" cy="336.64" r="1.35"/>
<circle cx="903.33" cy="336.64" r="1.35"/>
<circle cx="917.58" cy="336.64" r="1.35"/>
<circle cx="931.82" cy="336.64" r="1.35"/>
<circle cx="946.06" cy="336.64" r="1.35"/>
<circle cx="960.30" cy="336.64" r="1.35"/>
<circle cx="974.54" cy="336.64" r="1.35"/>
<circle cx="988.79" cy="336.64" r="1.35"/>
<circle cx="1003.03" cy="336.64" r="1.35"/>
<circle cx="155.63" cy="322.40" r="1.35"/>
<circle cx="169.87" cy="322.40" r="1.35"/>
<circle cx="184.11" cy="322.40" r="1.35"/>
<circle cx="198.35" cy="322.40" r="1.35"/>
<circle cx="212.60" cy="322.40" r="1.35"/>
<circle cx="226.84" cy="322.40" r="1.35"/>
<circle cx="241.08" cy="322.40" r="1.35"/>
<circle cx="255.32" cy="322.40" r="1.35"/>
<circle cx="269.56" cy="322.40" r="1.35"/>
<circle cx="283.81" cy="322.40" r="1.35"/>
<circle cx="298.05" cy="322.40" r="1.35"/>
<circle cx="312.29" cy="322.40" r="1.35"/>
<circle cx="326.53" cy="322.40" r="1.35"/>
<circle cx="340.77" cy="322.40" r="1.35"/>
<circle cx="355.02" cy="322.40" r="1.35"/>
<circle cx="369.26" cy="322.40" r="1.35"/>
<circle cx="383.50" cy="322.40" r="1.35"/>
<circle cx="397.74" cy="322.40" r="1.35"/>
<circle cx="411.99" cy="322.40" r="1.35"/>
<circle cx="426.23" cy="322.40" r="1.35"/>
<circle cx="440.47" cy="322.40" r="1.35"/>
<circle cx="454.71" cy="322.40" r="1.35"/>
<circle cx="468.95" cy="322.40" r="1.35"/>
<circle cx="483.20" cy="322.40" r="1.35"/>
<circle cx="497.44" cy="322.40" r="1.35"/>
<circle cx="511.68" cy="322.40" r="1.35"/>
<circle cx="525.92" cy="322.40" r="1.35"/>
<circle cx="540.16" cy="322.40" r="1.35"/>
<circle cx="554.40" cy="322.40" r="1.35"/>
<circle cx="568.65" cy="322.40" r="1.35"/>
<circle cx="582.89" cy="322.40" r="1.35"/>
<circle cx="597.13" cy="322.40" r="1.35"/>
<circle cx="611.37" cy="322.40" r="1.35"/>
<circle cx="625.62" cy="322.40" r="1.35"/>
<circle cx="639.86" cy="322.40" r="1.35"/>
<circle cx="654.10" cy="322.40" r="1.35"/>
<circle cx="668.34" cy="322.40" r="1.35"/>
<circle cx="682.58" cy="322.40" r="1.35"/>
<circle cx="696.83" cy="322.40" r="1.35"/>
<circle cx="711.07" cy="322.40" r="1.35"/>
<circle cx="725.31" cy="322.40" r="1.35"/>
<circle cx="739.55" cy="322.40" r="1.35"/>
<circle cx="753.79" cy="322.40" r="1.35"/>
<circle cx="768.04" cy="322.40" r="1.35"/>
<circle cx="782.28" cy="322.40" r="1.35"/>
<circle cx="796.52" cy="322.40" r="1.35"/>
<circle cx="810.76" cy="322.40" r="1.35"/>
<circle cx="825.00" cy="322.40" r="1.35"/>
<circle cx="839.25" cy="322.40" r="1.35"/>
<circle cx="853.49" cy="322.40" r="1.35"/>
<circle cx="867.73" cy="322.40" r="1.35"/>
<circle cx="881.97" cy="322.40" r="1.35"/>
<circle cx="896.21" cy="322.40" r="1.35"/>
<circle cx="910.46" cy="322.40" r="1.35"/>
<circle cx="924.70" cy="322.40" r="1.35"/>
<circle cx="938.94" cy="322.40" r="1.35"/>
<circle cx="953.18" cy="322.40" r="1.35"/>
<circle cx="967.42" cy="322.40" r="1.35"/>
<circle cx="981.67" cy="322.40" r="1.35"/>
<circle cx="995.91" cy="322.40" r="1.35"/>
<circle cx="148.51" cy="308.16" r="1.35"/>
<circle cx="162.75" cy="308.16" r="1.35"/>
<circle cx="176.99" cy="308.16" r="1.35"/>
<circle cx="191.23" cy="308.16" r="1.35"/>
<circle cx="205.48" cy="308.16" r="1.35"/>
<circle cx="219.72" cy="308.16" r="1.35"/>
<circle cx="233.96" cy="308.16" r="1.35"/>
<circle cx="248.20" cy="308.16" r="1.35"/>
<circle cx="262.44" cy="308.16" r="1.35"/>
<circle cx="276.69" cy="308.16" r="1.35"/>
<circle cx="290.93" cy="308.16" r="1.35"/>
<circle cx="305.17" cy="308.16" r="1.35"/>
<circle cx="319.41" cy="308.16" r="1.35"/>
<circle cx="333.65" cy="308.16" r="1.35"/>
<circle cx="347.90" cy="308.16" r="1.35"/>
<circle cx="362.14" cy="308.16" r="1.35"/>
<circle cx="376.38" cy="308.16" r="1.35"/>
<circle cx="390.62" cy="308.16" r="1.35"/>
<circle cx="404.86" cy="308.16" r="1.35"/>
<circle cx="419.11" cy="308.16" r="1.35"/>
<circle cx="433.35" cy="308.16" r="1.35"/>
<circle cx="447.59" cy="308.16" r="1.35"/>
<circle cx="461.83" cy="308.16" r="1.35"/>
<circle cx="476.07" cy="308.16" r="1.35"/>
<circle cx="490.32" cy="308.16" r="1.35"/>
<circle cx="504.56" cy="308.16" r="1.35"/>
<circle cx="518.80" cy="308.16" r="1.35"/>
<circle cx="533.04" cy="308.16" r="1.35"/>
<circle cx="547.28" cy="308.16" r="1.35"/>
<circle cx="561.53" cy="308.16" r="1.35"/>
<circle cx="575.77" cy="308.16" r="1.35"/>
<circle cx="590.01" cy="308.16" r="1.35"/>
<circle cx="604.25" cy="308.16" r="1.35"/>
<circle cx="618.49" cy="308.16" r="1.35"/>
<circle cx="632.74" cy="308.16" r="1.35"/>
<circle cx="646.98" cy="308.16" r="1.35"/>
<circle cx="661.22" cy="308.16" r="1.35"/>
<circle cx="675.46" cy="308.16" r="1.35"/>
<circle cx="689.70" cy="308.16" r="1.35"/>
<circle cx="703.95" cy="308.16" r="1.35"/>
<circle cx="718.19" cy="308.16" r="1.35"/>
<circle cx="732.43" cy="308.16" r="1.35"/>
<circle cx="746.67" cy="308.16" r="1.35"/>
<circle cx="760.91" cy="308.16" r="1.35"/>
<circle cx="775.16" cy="308.16" r="1.35"/>
<circle cx="789.40" cy="308.16" r="1.35"/>
<circle cx="803.64" cy="308.16" r="1.35"/>
<circle cx="817.88" cy="308.16" r="1.35"/>
<circle cx="832.12" cy="308.16" r="1.35"/>
<circle cx="846.37" cy="308.16" r="1.35"/>
<circle cx="860.61" cy="308.16" r="1.35"/>
<circle cx="874.85" cy="308.16" r="1.35"/>
<circle cx="889.09" cy="308.16" r="1.35"/>
<circle cx="903.33" cy="308.16" r="1.35"/>
<circle cx="917.58" cy="308.16" r="1.35"/>
<circle cx="931.82" cy="308.16" r="1.35"/>
<circle cx="946.06" cy="308.16" r="1.35"/>
<circle cx="960.30" cy="308.16" r="1.35"/>
<circle cx="974.54" cy="308.16" r="1.35"/>
<circle cx="988.79" cy="308.16" r="1.35"/>
<circle cx="1003.03" cy="308.16" r="1.35"/>
<circle cx="155.63" cy="293.92" r="1.35"/>
<circle cx="169.87" cy="293.92" r="1.35"/>
<circle cx="184.11" cy="293.92" r="1.35"/>
<circle cx="198.35" cy="293.92" r="1.35"/>
<circle cx="212.60" cy="293.92" r="1.35"/>
<circle cx="226.84" cy="293.92" r="1.35"/>
<circle cx="241.08" cy="293.92" r="1.35"/>
<circle cx="255.32" cy="293.92" r="1.35"/>
<circle cx="269.56" cy="293.92" r="1.35"/>
<circle cx="283.81" cy="293.92" r="1.35"/>
<circle cx="298.05" cy="293.92" r="1.35"/>
<circle cx="312.29" cy="293.92" r="1.35"/>
<circle cx="326.53" cy="293.92" r="1.35"/>
<circle cx="340.77" cy="293.92" r="1.35"/>
<circle cx="355.02" cy="293.92" r="1.35"/>
<circle cx="369.26" cy="293.92" r="1.35"/>
<circle cx="383.50" cy="293.92" r="1.35"/>
<circle cx="397.74" cy="293.92" r="1.35"/>
<circle cx="411.99" cy="293.92" r="1.35"/>
<circle cx="426.23" cy="293.92" r="1.35"/>
<circle cx="440.47" cy="293.92" r="1.35"/>
<circle cx="454.71" cy="293.92" r="1.35"/>
<circle cx="468.95" cy="293.92" r="1.35"/>
<circle cx="483.20" cy="293.92" r="1.35"/>
<circle cx="497.44" cy="293.92" r="1.35"/>
<circle cx="511.68" cy="293.92" r="1.35"/>
<circle cx="525.92" cy="293.92" r="1.35"/>
<circle cx="540.16" cy="293.92" r="1.35"/>
<circle cx="554.40" cy="293.92" r="1.35"/>
<circle cx="568.65" cy="293.92" r="1.35"/>
<circle cx="582.89" cy="293.92" r="1.35"/>
<circle cx="597.13" cy="293.92" r="1.35"/>
<circle cx="611.37" cy="293.92" r="1.35"/>
<circle cx="625.62" cy="293.92" r="1.35"/>
<circle cx="639.86" cy="293.92" r="1.35"/>
<circle cx="654.10" cy="293.92" r="1.35"/>
<circle cx="668.34" cy="293.92" r="1.35"/>
<circle cx="682.58" cy="293.92" r="1.35"/>
<circle cx="696.83" cy="293.92" r="1.35"/>
<circle cx="711.07" cy="293.92" r="1.35"/>
<circle cx="725.31" cy="293.92" r="1.35"/>
<circle cx="739.55" cy="293.92" r="1.35"/>
<circle cx="753.79" cy="293.92" r="1.35"/>
<circle cx="768.04" cy="293.92" r="1.35"/>
<circle cx="782.28" cy="293.92" r="1.35"/>
<circle cx="796.52" cy="293.92" r="1.35"/>
<circle cx="810.76" cy="293.92" r="1.35"/>
<circle cx="825.00" cy="293.92" r="1.35"/>
<circle cx="839.25" cy="293.92" r="1.35"/>
<circle cx="853.49" cy="293.92" r="1.35"/>
<circle cx="867.73" cy="293.92" r="1.35"/>
<circle cx="881.97" cy="293.92" r="1.35"/>
<circle cx="896.21" cy="293.92" r="1.35"/>
<circle cx="910.46" cy="293.92" r="1.35"/>
<circle cx="924.70" cy="293.92" r="1.35"/>
<circle cx="938.94" cy="293.92" r="1.35"/>
<circle cx="953.18" cy="293.92" r="1.35"/>
<circle cx="967.42" cy="293.92" r="1.35"/>
<circle cx="981.67" cy="293.92" r="1.35"/>
<circle cx="995.91" cy="293.92" r="1.35"/>
<circle cx="148.51" cy="279.68" r="1.35"/>
<circle cx="162.75" cy="279.68" r="1.35"/>
<circle cx="176.99" cy="279.68" r="1.35"/>
<circle cx="191.23" cy="279.68" r="1.35"/>
<circle cx="205.48" cy="279.68" r="1.35"/>
<circle cx="219.72" cy="279.68" r="1.35"/>
<circle cx="233.96" cy="279.68" r="1.35"/>
<circle cx="248.20" cy="279.68" r="1.35"/>
<circle cx="262.44" cy="279.68" r="1.35"/>
<circle cx="276.69" cy="279.68" r="1.35"/>
<circle cx="290.93" cy="279.68" r="1.35"/>
<circle cx="305.17" cy="279.68" r="1.35"/>
<circle cx="319.41" cy="279.68" r="1.35"/>
<circle cx="333.65" cy="279.68" r="1.35"/>
<circle cx="347.90" cy="279.68" r="1.35"/>
<circle cx="362.14" cy="279.68" r="1.35"/>
<circle cx="376.38" cy="279.68" r="1.35"/>
<circle cx="390.62" cy="279.68" r="1.35"/>
<circle cx="404.86" cy="279.68" r="1.35"/>
<circle cx="419.11" cy="279.68" r="1.35"/>
<circle cx="433.35" cy="279.68" r="1.35"/>
<circle cx="447.59" cy="279.68" r="1.35"/>
<circle cx="461.83" cy="279.68" r="1.35"/>
<circle cx="476.07" cy="279.68" r="1.35"/>
<circle cx="490.32" cy="279.68" r="1.35"/>
<circle cx="504.56" cy="279.68" r="1.35"/>
<circle cx="518.80" cy="279.68" r="1.35"/>
<circle cx="533.04" cy="279.68" r="1.35"/>
<circle cx="547.28" cy="279.68" r="1.35"/>
<circle cx="561.53" cy="279.68" r="1.35"/>
<circle cx="575.77" cy="279.68" r="1.35"/>
<circle cx="590.01" cy="279.68" r="1.35"/>
<circle cx="604.25" cy="279.68" r="1.35"/>
<circle cx="618.49" cy="279.68" r="1.35"/>
<circle cx="632.74" cy="279.68" r="1.35"/>
<circle cx="646.98" cy="279.68" r="1.35"/>
<circle cx="661.22" cy="279.68" r="1.35"/>
<circle cx="675.46" cy="279.68" r="1.35"/>
<circle cx="689.70" cy="279.68" r="1.35"/>
<circle cx="703.95" cy="279.68" r="1.35"/>
<circle cx="718.19" cy="279.68" r="1.35"/>
<circle cx="732.43" cy="279.68" r="1.35"/>
<circle cx="746.67" cy="279.68" r="1.35"/>
<circle cx="760.91" cy="279.68" r="1.35"/>
<circle cx="775.16" cy="279.68" r="1.35"/>
<circle cx="789.40" cy="279.68" r="1.35"/>
<circle cx="803.64" cy="279.68" r="1.35"/>
<circle cx="817.88" cy="279.68" r="1.35"/>
<circle cx="832.12" cy="279.68" r="1.35"/>
<circle cx="846.37" cy="279.68" r="1.35"/>
<circle cx="860.61" cy="279.68" r="1.35"/>
<circle cx="874.85" cy="279.68" r="1.35"/>
<circle cx="889.09" cy="279.68" r="1.35"/>
<circle cx="903.33" cy="279.68" r="1.35"/>
<circle cx="917.58" cy="279.68" r="1.35"/>
<circle cx="931.82" cy="279.68" r="1.35"/>
<circle cx="946.06" cy="279.68" r="1.35"/>
<circle cx="960.30" cy="279.68" r="1.35"/>
<circle cx="974.54" cy="279.68" r="1.35"/>
<circle cx="988.79" cy="279.68" r="1.35"/>
<circle cx="1003.03" cy="279.68" r="1.35"/>
<circle cx="155.63" cy="265.43" r="1.35"/>
<circle cx="169.87" cy="265.43" r="1.35"/>
<circle cx="184.11" cy="265.43" r="1.35"/>
<circle cx="198.35" cy="265.43" r="1.35"/>
<circle cx="212.60" cy="265.43" r="1.35"/>
<circle cx="226.84" cy="265.43" r="1.35"/>
<circle cx="241.08" cy="265.43" r="1.35"/>
<circle cx="255.32" cy="265.43" r="1.35"/>
<circle cx="269.56" cy="265.43" r="1.35"/>
<circle cx="283.81" cy="265.43" r="1.35"/>
<circle cx="298.05" cy="265.43" r="1.35"/>
<circle cx="312.29" cy="265.43" r="1.35"/>
<circle cx="326.53" cy="265.43" r="1.35"/>
<circle cx="340.77" cy="265.43" r="1.35"/>
<circle cx="355.02" cy="265.43" r="1.35"/>
<circle cx="369.26" cy="265.43" r="1.35"/>
<circle cx="383.50" cy="265.43" r="1.35"/>
<circle cx="397.74" cy="265.43" r="1.35"/>
<circle cx="411.99" cy="265.43" r="1.35"/>
<circle cx="426.23" cy="265.43" r="1.35"/>
<circle cx="440.47" cy="265.43" r="1.35"/>
<circle cx="454.71" cy="265.43" r="1.35"/>
<circle cx="468.95" cy="265.43" r="1.35"/>
<circle cx="483.20" cy="265.43" r="1.35"/>
<circle cx="497.44" cy="265.43" r="1.35"/>
<circle cx="511.68" cy="265.43" r="1.35"/>
<circle cx="525.92" cy="265.43" r="1.35"/>
<circle cx="540.16" cy="265.43" r="1.35"/>
<circle cx="554.40" cy="265.43" r="1.35"/>
<circle cx="568.65" cy="265.43" r="1.35"/>
<circle cx="582.89" cy="265.43" r="1.35"/>
<circle cx="597.13" cy="265.43" r="1.35"/>
<circle cx="611.37" cy="265.43" r="1.35"/>
<circle cx="625.62" cy="265.43" r="1.35"/>
<circle cx="639.86" cy="265.43" r="1.35"/>
<circle cx="654.10" cy="265.43" r="1.35"/>
<circle cx="668.34" cy="265.43" r="1.35"/>
<circle cx="682.58" cy="265.43" r="1.35"/>
<circle cx="696.83" cy="265.43" r="1.35"/>
<circle cx="711.07" cy="265.43" r="1.35"/>
<circle cx="725.31" cy="265.43" r="1.35"/>
<circle cx="739.55" cy="265.43" r="1.35"/>
<circle cx="753.79" cy="265.43" r="1.35"/>
<circle cx="768.04" cy="265.43" r="1.35"/>
<circle cx="782.28" cy="265.43" r="1.35"/>
<circle cx="796.52" cy="265.43" r="1.35"/>
<circle cx="810.76" cy="265.43" r="1.35"/>
<circle cx="825.00" cy="265.43" r="1.35"/>
<circle cx="839.25" cy="265.43" r="1.35"/>
<circle cx="853.49" cy="265.43" r="1.35"/>
<circle cx="867.73" cy="265.43" r="1.35"/>
<circle cx="881.97" cy="265.43" r="1.35"/>
<circle cx="896.21" cy="265.43" r="1.35"/>
<circle cx="910.46" cy="265.43" r="1.35"/>
<circle cx="924.70" cy="265.43" r="1.35"/>
<circle cx="938.94" cy="265.43" r="1.35"/>
<circle cx="953.18" cy="265.43" r="1.35"/>
<circle cx="967.42" cy="265.43" r="1.35"/>
<circle cx="981.67" cy="265.43" r="1.35"/>
<circle cx="995.91" cy="265.43" r="1.35"/>
<circle cx="148.51" cy="251.19" r="1.35"/>
<circle cx="162.75" cy="251.19" r="1.35"/>
<circle cx="176.99" cy="251.19" r="1.35"/>
<circle cx="191.23" cy="251.19" r="1.35"/>
<circle cx="205.48" cy="251.19" r="1.35"/>
<circle cx="219.72" cy="251.19" r="1.35"/>
<circle cx="233.96" cy="251.19" r="1.35"/>
<circle cx="248.20" cy="251.19" r="1.35"/>
<circle cx="262.44" cy="251.19" r="1.35"/>
<circle cx="276.69" cy="251.19" r="1.35"/>
<circle cx="290.93" cy="251.19" r="1.35"/>
<circle cx="305.17" cy="251.19" r="1.35"/>
<circle cx="319.41" cy="251.19" r="1.35"/>
<circle cx="333.65" cy="251.19" r="1.35"/>
<circle cx="347.90" cy="251.19" r="1.35"/>
<circle cx="362.14" cy="251.19" r="1.35"/>
<circle cx="376.38" cy="251.19" r="1.35"/>
<circle cx="390.62" cy="251.19" r="1.35"/>
<circle cx="404.86" cy="251.19" r="1.35"/>
<circle cx="419.11" cy="251.19" r="1.35"/>
<circle cx="433.35" cy="251.19" r="1.35"/>
<circle cx="447.59" cy="251.19" r="1.35"/>
<circle cx="461.83" cy="251.19" r="1.35"/>
<circle cx="476.07" cy="251.19" r="1.35"/>
<circle cx="490.32" cy="251.19" r="1.35"/>
<circle cx="504.56" cy="251.19" r="1.35"/>
<circle cx="518.80" cy="251.19" r="1.35"/>
<circle cx="533.04" cy="251.19" r="1.35"/>
<circle cx="547.28" cy="251.19" r="1.35"/>
<circle cx="561.53" cy="251.19" r="1.35"/>
<circle cx="575.77" cy="251.19" r="1.35"/>
<circle cx="590.01" cy="251.19" r="1.35"/>
<circle cx="604.25" cy="251.19" r="1.35"/>
<circle cx="618.49" cy="251.19" r="1.35"/>
<circle cx="632.74" cy="251.19" r="1.35"/>
<circle cx="646.98" cy="251.19" r="1.35"/>
<circle cx="661.22" cy="251.19" r="1.35"/>
<circle cx="675.46" cy="251.19" r="1.35"/>
<circle cx="689.70" cy="251.19" r="1.35"/>
<circle cx="703.95" cy="251.19" r="1.35"/>
<circle cx="718.19" cy="251.19" r="1.35"/>
<circle cx="732.43" cy="251.19" r="1.35"/>
<circle cx="746.67" cy="251.19" r="1.35"/>
<circle cx="760.91" cy="251.19" r="1.35"/>
<circle cx="775.16" cy="251.19" r="1.35"/>
<circle cx="789.40" cy="251.19" r="1.35"/>
<circle cx="803.64" cy="251.19" r="1.35"/>
<circle cx="817.88" cy="251.19" r="1.35"/>
<circle cx="832.12" cy="251.19" r="1.35"/>
<circle cx="846.37" cy="251.19" r="1.35"/>
<circle cx="860.61" cy="251.19" r="1.35"/>
<circle cx="874.85" cy="251.19" r="1.35"/>
<circle cx="889.09" cy="251.19" r="1.35"/>
<circle cx="903.33" cy="251.19" r="1.35"/>
<circle cx="917.58" cy="251.19" r="1.35"/>
<circle cx="931.82" cy="251.19" r="1.35"/>
<circle cx="946.06" cy="251.19" r="1.35"/>
<circle cx="960.30" cy="251.19" r="1.35"/>
<circle cx="974.54" cy="251.19" r="1.35"/>
<circle cx="988.79" cy="251.19" r="1.35"/>
<circle cx="1003.03" cy="251.19" r="1.35"/>
<circle cx="155.63" cy="236.95" r="1.35"/>
<circle cx="169.87" cy="236.95" r="1.35"/>
<circle cx="184.11" cy="236.95" r="1.35"/>
<circle cx="198.35" cy="236.95" r="1.35"/>
<circle cx="212.60" cy="236.95" r="1.35"/>
<circle cx="226.84" cy="236.95" r="1.35"/>
<circle cx="241.08" cy="236.95" r="1.35"/>
<circle cx="255.32" cy="236.95" r="1.35"/>
<circle cx="269.56" cy="236.95" r="1.35"/>
<circle cx="283.81" cy="236.95" r="1.35"/>
<circle cx="298.05" cy="236.95" r="1.35"/>
<circle cx="312.29" cy="236.95" r="1.35"/>
<circle cx="326.53" cy="236.95" r="1.35"/>
<circle cx="340.77" cy="236.95" r="1.35"/>
<circle cx="355.02" cy="236.95" r="1.35"/>
<circle cx="369.26" cy="236.95" r="1.35"/>
<circle cx="383.50" cy="236.95" r="1.35"/>
<circle cx="397.74" cy="236.95" r="1.35"/>
<circle cx="411.99" cy="236.95" r="1.35"/>
<circle cx="426.23" cy="236.95" r="1.35"/>
<circle cx="440.47" cy="236.95" r="1.35"/>
<circle cx="454.71" cy="236.95" r="1.35"/>
<circle cx="468.95" cy="236.95" r="1.35"/>
<circle cx="483.20" cy="236.95" r="1.35"/>
<circle cx="497.44" cy="236.95" r="1.35"/>
<circle cx="511.68" cy="236.95" r="1.35"/>
<circle cx="525.92" cy="236.95" r="1.35"/>
<circle cx="540.16" cy="236.95" r="1.35"/>
<circle cx="554.40" cy="236.95" r="1.35"/>
<circle cx="568.65" cy="236.95" r="1.35"/>
<circle cx="582.89" cy="236.95" r="1.35"/>
<circle cx="597.13" cy="236.95" r="1.35"/>
<circle cx="611.37" cy="236.95" r="1.35"/>
<circle cx="625.62" cy="236.95" r="1.35"/>
<circle cx="639.86" cy="236.95" r="1.35"/>
<circle cx="654.10" cy="236.95" r="1.35"/>
<circle cx="668.34" cy="236.95" r="1.35"/>
<circle cx="682.58" cy="236.95" r="1.35"/>
<circle cx="696.83" cy="236.95" r="1.35"/>
<circle cx="711.07" cy="236.95" r="1.35"/>
<circle cx="725.31" cy="236.95" r="1.35"/>
<circle cx="739.55" cy="236.95" r="1.35"/>
<circle cx="753.79" cy="236.95" r="1.35"/>
<circle cx="768.04" cy="236.95" r="1.35"/>
<circle cx="782.28" cy="236.95" r="1.35"/>
<circle cx="796.52" cy="236.95" r="1.35"/>
<circle cx="810.76" cy="236.95" r="1.35"/>
<circle cx="825.00" cy="236.95" r="1.35"/>
<circle cx="839.25" cy="236.95" r="1.35"/>
<circle cx="853.49" cy="236.95" r="1.35"/>
<circle cx="867.73" cy="236.95" r="1.35"/>
<circle cx="881.97" cy="236.95" r="1.35"/>
<circle cx="896.21" cy="236.95" r="1.35"/>
<circle cx="910.46" cy="236.95" r="1.35"/>
<circle cx="924.70" cy="236.95" r="1.35"/>
<circle cx="938.94" cy="236.95" r="1.35"/>
<circle cx="953.18" cy="236.95" r="1.35"/>
<circle cx="967.42" cy="236.95" r="1.35"/>
<circle cx="981.67" cy="236.95" r="1.35"/>
<circle cx="995.91" cy="236.95" r="1.35"/>
<circle cx="148.51" cy="222.71" r="1.35"/>
<circle cx="162.75" cy="222.71" r="1.35"/>
<circle cx="176.99" cy="222.71" r="1.35"/>
<circle cx="191.23" cy="222.71" r="1.35"/>
<circle cx="205.48" cy="222.71" r="1.35"/>
<circle cx="219.72" cy="222.71" r="1.35"/>
<circle cx="233.96" cy="222.71" r="1.35"/>
<circle cx="248.20" cy="222.71" r="1.35"/>
<circle cx="262.44" cy="222.71" r="1.35"/>
<circle cx="276.69" cy="222.71" r="1.35"/>
<circle cx="290.93" cy="222.71" r="1.35"/>
<circle cx="305.17" cy="222.71" r="1.35"/>
<circle cx="319.41" cy="222.71" r="1.35"/>
<circle cx="333.65" cy="222.71" r="1.35"/>
<circle cx="347.90" cy="222.71" r="1.35"/>
<circle cx="362.14" cy="222.71" r="1.35"/>
<circle cx="376.38" cy="222.71" r="1.35"/>
<circle cx="390.62" cy="222.71" r="1.35"/>
<circle cx="404.86" cy="222.71" r="1.35"/>
<circle cx="419.11" cy="222.71" r="1.35"/>
<circle cx="433.35" cy="222.71" r="1.35"/>
<circle cx="447.59" cy="222.71" r="1.35"/>
<circle cx="461.83" cy="222.71" r="1.35"/>
<circle cx="476.07" cy="222.71" r="1.35"/>
<circle cx="490.32" cy="222.71" r="1.35"/>
<circle cx="504.56" cy="222.71" r="1.35"/>
<circle cx="518.80" cy="222.71" r="1.35"/>
<circle cx="533.04" cy="222.71" r="1.35"/>
<circle cx="547.28" cy="222.71" r="1.35"/>
<circle cx="561.53" cy="222.71" r="1.35"/>
<circle cx="575.77" cy="222.71" r="1.35"/>
<circle cx="590.01" cy="222.71" r="1.35"/>
<circle cx="604.25" cy="222.71" r="1.35"/>
<circle cx="618.49" cy="222.71" r="1.35"/>
<circle cx="632.74" cy="222.71" r="1.35"/>
<circle cx="646.98" cy="222.71" r="1.35"/>
<circle cx="661.22" cy="222.71" r="1.35"/>
<circle cx="675.46" cy="222.71" r="1.35"/>
<circle cx="689.70" cy="222.71" r="1.35"/>
<circle cx="703.95" cy="222.71" r="1.35"/>
<circle cx="718.19" cy="222.71" r="1.35"/>
<circle cx="732.43" cy="222.71" r="1.35"/>
<circle cx="746.67" cy="222.71" r="1.35"/>
<circle cx="760.91" cy="222.71" r="1.35"/>
<circle cx="775.16" cy="222.71" r="1.35"/>
<circle cx="789.40" cy="222.71" r="1.35"/>
<circle cx="803.64" cy="222.71" r="1.35"/>
<circle cx="817.88" cy="222.71" r="1.35"/>
<circle cx="832.12" cy="222.71" r="1.35"/>
<circle cx="846.37" cy="222.71" r="1.35"/>
<circle cx="860.61" cy="222.71" r="1.35"/>
<circle cx="874.85" cy="222.71" r="1.35"/>
<circle cx="889.09" cy="222.71" r="1.35"/>
<circle cx="903.33" cy="222.71" r="1.35"/>
<circle cx="917.58" cy="222.71" r="1.35"/>
<circle cx="931.82" cy="222.71" r="1.35"/>
<circle cx="946.06" cy="222.71" r="1.35"/>
<circle cx="960.30" cy="222.71" r="1.35"/>
<circle cx="974.54" cy="222.71" r="1.35"/>
<circle cx="988.79" cy="222.71" r="1.35"/>
<circle cx="1003.03" cy="222.71" r="1.35"/>
<circle cx="155.63" cy="208.47" r="1.35"/>
<circle cx="169.87" cy="208.47" r="1.35"/>
<circle cx="184.11" cy="208.47" r="1.35"/>
<circle cx="198.35" cy="208.47" r="1.35"/>
<circle cx="212.60" cy="208.47" r="1.35"/>
<circle cx="226.84" cy="208.47" r="1.35"/>
<circle cx="241.08" cy="208.47" r="1.35"/>
<circle cx="255.32" cy="208.47" r="1.35"/>
<circle cx="269.56" cy="208.47" r="1.35"/>
<circle cx="283.81" cy="208.47" r="1.35"/>
<circle cx="298.05" cy="208.47" r="1.35"/>
<circle cx="312.29" cy="208.47" r="1.35"/>
<circle cx="326.53" cy="208.47" r="1.35"/>
<circle cx="340.77" cy="208.47" r="1.35"/>
<circle cx="355.02" cy="208.47" r="1.35"/>
<circle cx="369.26" cy="208.47" r="1.35"/>
<circle cx="383.50" cy="208.47" r="1.35"/>
<circle cx="397.74" cy="208.47" r="1.35"/>
<circle cx="411.99" cy="208.47" r="1.35"/>
<circle cx="426.23" cy="208.47" r="1.35"/>
<circle cx="440.47" cy="208.47" r="1.35"/>
<circle cx="454.71" cy="208.47" r="1.35"/>
<circle cx="468.95" cy="208.47" r="1.35"/>
<circle cx="483.20" cy="208.47" r="1.35"/>
<circle cx="497.44" cy="208.47" r="1.35"/>
<circle cx="511.68" cy="208.47" r="1.35"/>
<circle cx="525.92" cy="208.47" r="1.35"/>
<circle cx="540.16" cy="208.47" r="1.35"/>
<circle cx="554.40" cy="208.47" r="1.35"/>
<circle cx="568.65" cy="208.47" r="1.35"/>
<circle cx="582.89" cy="208.47" r="1.35"/>
<circle cx="597.13" cy="208.47" r="1.35"/>
<circle cx="611.37" cy="208.47" r="1.35"/>
<circle cx="625.62" cy="208.47" r="1.35"/>
<circle cx="639.86" cy="208.47" r="1.35"/>
<circle cx="654.10" cy="208.47" r="1.35"/>
<circle cx="668.34" cy="208.47" r="1.35"/>
<circle cx="682.58" cy="208.47" r="1.35"/>
<circle cx="696.83" cy="208.47" r="1.35"/>
<circle cx="711.07" cy="208.47" r="1.35"/>
<circle cx="725.31" cy="208.47" r="1.35"/>
<circle cx="739.55" cy="208.47" r="1.35"/>
<circle cx="753.79" cy="208.47" r="1.35"/>
<circle cx="768.04" cy="208.47" r="1.35"/>
<circle cx="782.28" cy="208.47" r="1.35"/>
<circle cx="796.52" cy="208.47" r="1.35"/>
<circle cx="810.76" cy="208.47" r="1.35"/>
<circle cx="825.00" cy="208.47" r="1.35"/>
<circle cx="839.25" cy="208.47" r="1.35"/>
<circle cx="853.49" cy="208.47" r="1.35"/>
<circle cx="867.73" cy="208.47" r="1.35"/>
<circle cx="881.97" cy="208.47" r="1.35"/>
<circle cx="896.21" cy="208.47" r="1.35"/>
<circle cx="910.46" cy="208.47" r="1.35"/>
<circle cx="924.70" cy="208.47" r="1.35"/>
<circle cx="938.94" cy="208.47" r="1.35"/>
<circle cx="953.18" cy="208.47" r="1.35"/>
<circle cx="967.42" cy="208.47" r="1.35"/>
<circle cx="981.67" cy="208.47" r="1.35"/>
<circle cx="995.91" cy="208.47" r="1.35"/>
<circle cx="148.51" cy="194.22" r="1.35"/>
<circle cx="162.75" cy="194.22" r="1.35"/>
<circle cx="176.99" cy="194.22" r="1.35"/>
<circle cx="191.23" cy="194.22" r="1.35"/>
<circle cx="205.48" cy="194.22" r="1.35"/>
<circle cx="219.72" cy="194.22" r="1.35"/>
<circle cx="233.96" cy="194.22" r="1.35"/>
<circle cx="248.20" cy="194.22" r="1.35"/>
<circle cx="262.44" cy="194.22" r="1.35"/>
<circle cx="276.69" cy="194.22" r="1.35"/>
<circle cx="290.93" cy="194.22" r="1.35"/>
<circle cx="305.17" cy="194.22" r="1.35"/>
<circle cx="319.41" cy="194.22" r="1.35"/>
<circle cx="333.65" cy="194.22" r="1.35"/>
<circle cx="347.90" cy="194.22" r="1.35"/>
<circle cx="362.14" cy="194.22" r="1.35"/>
<circle cx="376.38" cy="194.22" r="1.35"/>
<circle cx="390.62" cy="194.22" r="1.35"/>
<circle cx="404.86" cy="194.22" r="1.35"/>
<circle cx="419.11" cy="194.22" r="1.35"/>
<circle cx="433.35" cy="194.22" r="1.35"/>
<circle cx="447.59" cy="194.22" r="1.35"/>
<circle cx="461.83" cy="194.22" r="1.35"/>
<circle cx="476.07" cy="194.22" r="1.35"/>
<circle cx="490.32" cy="194.22" r="1.35"/>
<circle cx="504.56" cy="194.22" r="1.35"/>
<circle cx="518.80" cy="194.22" r="1.35"/>
<circle cx="533.04" cy="194.22" r="1.35"/>
<circle cx="547.28" cy="194.22" r="1.35"/>
<circle cx="561.53" cy="194.22" r="1.35"/>
<circle cx="575.77" cy="194.22" r="1.35"/>
<circle cx="590.01" cy="194.22" r="1.35"/>
<circle cx="604.25" cy="194.22" r="1.35"/>
<circle cx="618.49" cy="194.22" r="1.35"/>
<circle cx="632.74" cy="194.22" r="1.35"/>
<circle cx="646.98" cy="194.22" r="1.35"/>
<circle cx="661.22" cy="194.22" r="1.35"/>
<circle cx="675.46" cy="194.22" r="1.35"/>
<circle cx="689.70" cy="194.22" r="1.35"/>
<circle cx="703.95" cy="194.22" r="1.35"/>
<circle cx="718.19" cy="194.22" r="1.35"/>
<circle cx="732.43" cy="194.22" r="1.35"/>
<circle cx="746.67" cy="194.22" r="1.35"/>
<circle cx="760.91" cy="194.22" r="1.35"/>
<circle cx="775.16" cy="194.22" r="1.35"/>
<circle cx="789.40" cy="194.22" r="1.35"/>
<circle cx="803.64" cy="194.22" r="1.35"/>
<circle cx="817.88" cy="194.22" r="1.35"/>
<circle cx="832.12" cy="194.22" r="1.35"/>
<circle cx="846.37" cy="194.22" r="1.35"/>
<circle cx="860.61" cy="194.22" r="1.35"/>
<circle cx="874.85" cy="194.22" r="1.35"/>
<circle cx="889.09" cy="194.22" r="1.35"/>
<circle cx="903.33" cy="194.22" r="1.35"/>
<circle cx="917.58" cy="194.22" r="1.35"/>
<circle cx="931.82" cy="194.22" r="1.35"/>
<circle cx="946.06" cy="194.22" r="1.35"/>
<circle cx="960.30" cy="194.22" r="1.35"/>
<circle cx="974.54" cy="194.22" r="1.35"/>
<circle cx="988.79" cy="194.22" r="1.35"/>
<circle cx="1003.03" cy="194.22" r="1.35"/>
</g>
<path d="M147.50,597.40 L147.50,186.90 L244.38,186.90 L244.38,479.60 L341.25,479.60 L341.25,472.10 L438.12,472.10 L438.12,491.30 L535.00,491.30 L535.00,542.40 L631.88,542.40 L631.88,542.40 L728.75,542.40 L728.75,565.80 L825.62,565.80 L825.62,577.90 L922.50,577.90 L922.50,577.90 L1019.38,577.90 L1019.38,597.40" fill="none" stroke="#0000ff" stroke-width="2.30" stroke-linejoin="miter"/>
<line x1="230.85" y1="597.3" x2="230.85" y2="21.0" stroke="#ff0000" stroke-width="3.56" stroke-dasharray="7.12 7.12"/>
<line x1="279.9" y1="597.3" x2="279.9" y2="21.0" stroke="#0000ff" stroke-width="3.56" stroke-dasharray="3.56 5.93 1.19 5.93"/>
</g>
<rect x="108.60" y="15.40" width="891.80" height="581.00" fill="none" stroke="#000" stroke-width="1.2"/>
<g stroke="#000" stroke-width="0.65"><line x1="147.50" y1="596.40" x2="147.50" y2="591.00"/><line x1="147.50" y1="15.40" x2="147.50" y2="20.80"/><line x1="341.25" y1="596.40" x2="341.25" y2="591.00"/><line x1="341.25" y1="15.40" x2="341.25" y2="20.80"/><line x1="535.00" y1="596.40" x2="535.00" y2="591.00"/><line x1="535.00" y1="15.40" x2="535.00" y2="20.80"/><line x1="728.75" y1="596.40" x2="728.75" y2="591.00"/><line x1="728.75" y1="15.40" x2="728.75" y2="20.80"/><line x1="922.50" y1="596.40" x2="922.50" y2="591.00"/><line x1="922.50" y1="15.40" x2="922.50" y2="20.80"/><line x1="108.60" y1="500.40" x2="114.00" y2="500.40"/><line x1="1000.40" y1="500.40" x2="995.00" y2="500.40"/><line x1="108.60" y1="403.40" x2="114.00" y2="403.40"/><line x1="1000.40" y1="403.40" x2="995.00" y2="403.40"/><line x1="108.60" y1="306.40" x2="114.00" y2="306.40"/><line x1="1000.40" y1="306.40" x2="995.00" y2="306.40"/><line x1="108.60" y1="209.40" x2="114.00" y2="209.40"/><line x1="1000.40" y1="209.40" x2="995.00" y2="209.40"/><line x1="108.60" y1="112.40" x2="114.00" y2="112.40"/><line x1="1000.40" y1="112.40" x2="995.00" y2="112.40"/><line x1="108.60" y1="15.40" x2="114.00" y2="15.40"/><line x1="1000.40" y1="15.40" x2="995.00" y2="15.40"/></g>
<g font-family="Liberation Serif" font-size="36.5" fill="#000">
<text transform="translate(147.50,632.60) scale(1,1.080)" text-anchor="middle">0.0</text>
<text transform="translate(341.25,632.60) scale(1,1.080)" text-anchor="middle">0.5</text>
<text transform="translate(535.00,632.60) scale(1,1.080)" text-anchor="middle">1.0</text>
<text transform="translate(728.75,632.60) scale(1,1.080)" text-anchor="middle">1.5</text>
<text transform="translate(922.50,632.60) scale(1,1.080)" text-anchor="middle">2.0</text>
<text transform="translate(96.10,510.50) scale(1,1.080)" text-anchor="end">0.1</text>
<text transform="translate(96.10,413.50) scale(1,1.080)" text-anchor="end">0.2</text>
<text transform="translate(96.10,316.50) scale(1,1.080)" text-anchor="end">0.3</text>
<text transform="translate(96.10,219.50) scale(1,1.080)" text-anchor="end">0.4</text>
<text transform="translate(96.10,122.50) scale(1,1.080)" text-anchor="end">0.5</text>
<text transform="translate(96.10,25.50) scale(1,1.080)" text-anchor="end">0.6</text>
</g>
<text transform="translate(558.8,680.3) scale(1,0.97)" text-anchor="middle" font-family="Liberation Serif" font-weight="bold" font-size="40.5" stroke="#fff" stroke-width="0.7">Redshift</text>
<text transform="translate(28.3,292.2) rotate(-90)" x="0" y="0" text-anchor="middle" font-family="Liberation Serif" font-weight="bold" font-size="41.1" stroke="#fff" stroke-width="0.7">Normalized Bin Content</text>
<rect x="752.5" y="34.9" width="228.9" height="118.8" fill="#fff" stroke="#000" stroke-width="1.25"/>
<g clip-path="url(#lrc)" stroke="#ff0000" stroke-width="1.00" fill="none">
<line x1="685.01" y1="47.10" x2="717.01" y2="79.10"/>
<line x1="713.49" y1="47.10" x2="745.49" y2="79.10"/>
<line x1="741.98" y1="47.10" x2="773.98" y2="79.10"/>
<line x1="770.46" y1="47.10" x2="802.46" y2="79.10"/>
<line x1="798.94" y1="47.10" x2="830.94" y2="79.10"/>
<line x1="827.43" y1="47.10" x2="859.43" y2="79.10"/>
<line x1="855.91" y1="47.10" x2="887.91" y2="79.10"/>
<line x1="884.40" y1="47.10" x2="916.40" y2="79.10"/>
</g>
<rect x="767.40" y="50.10" width="76.10" height="26.00" fill="none" stroke="#ff0000" stroke-width="2.30"/>
<g clip-path="url(#lbc)" stroke="#0000ff" stroke-width="1.00" fill="none">
<circle cx="768.04" cy="123.01" r="1.35"/>
<circle cx="782.28" cy="123.01" r="1.35"/>
<circle cx="796.52" cy="123.01" r="1.35"/>
<circle cx="810.76" cy="123.01" r="1.35"/>
<circle cx="825.00" cy="123.01" r="1.35"/>
<circle cx="839.25" cy="123.01" r="1.35"/>
<circle cx="775.16" cy="108.77" r="1.35"/>
<circle cx="789.40" cy="108.77" r="1.35"/>
<circle cx="803.64" cy="108.77" r="1.35"/>
<circle cx="817.88" cy="108.77" r="1.35"/>
<circle cx="832.12" cy="108.77" r="1.35"/>
<circle cx="846.37" cy="108.77" r="1.35"/>
</g>
<rect x="767.40" y="104.00" width="76.10" height="26.20" fill="none" stroke="#0000ff" stroke-width="2.30"/>
<g font-family="Liberation Serif" font-weight="bold" font-size="40.8" fill="#000" stroke="#fff" stroke-width="0.7">
<text transform="translate(977.6,76.5) scale(1,1.03)" text-anchor="end">2FHL</text>
<text transform="translate(977.6,130.6) scale(1,1.03)" text-anchor="end">1FHL</text>
</g>
</svg>
</body></html>
